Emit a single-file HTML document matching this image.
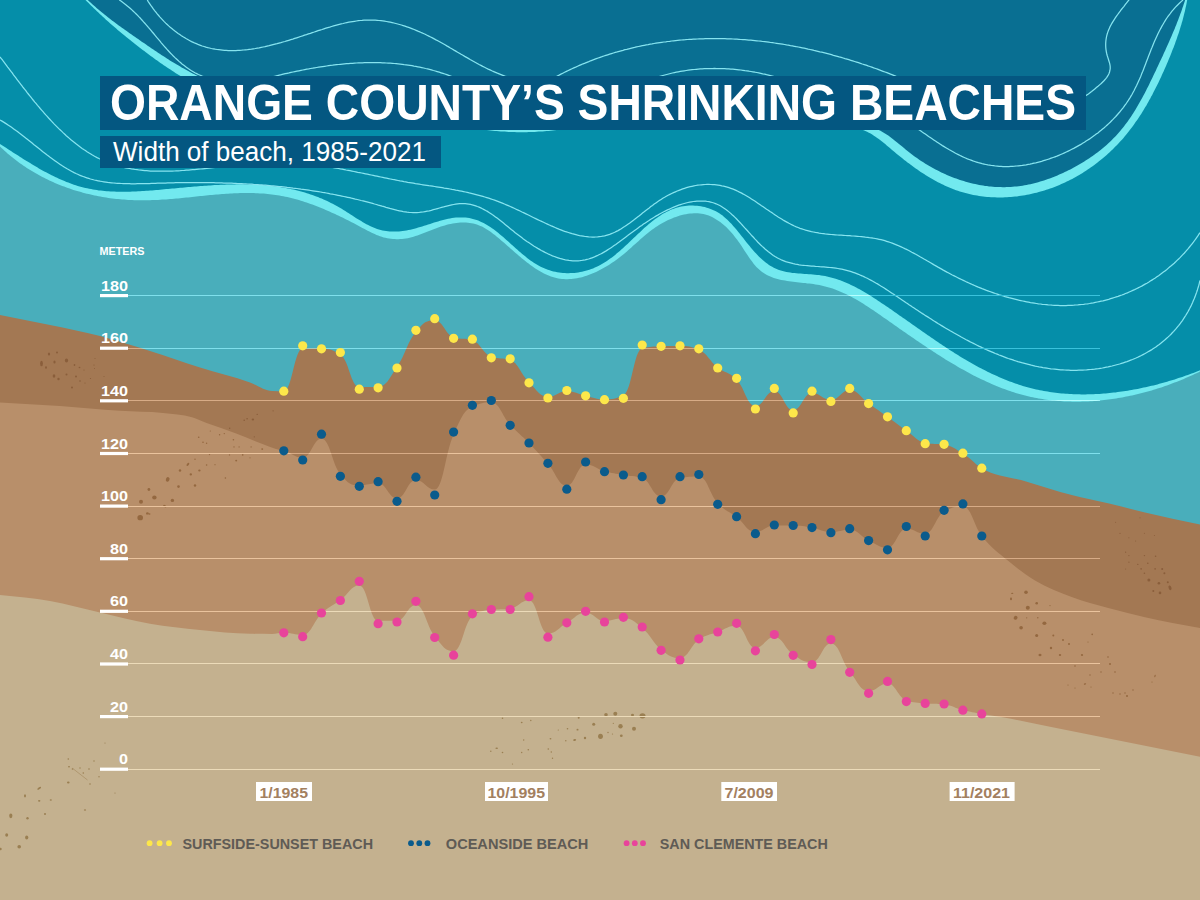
<!DOCTYPE html>
<html><head><meta charset="utf-8"><title>Orange County's Shrinking Beaches</title>
<style>
html,body{margin:0;padding:0;background:#c4b18f;}
body{width:1200px;height:900px;overflow:hidden;font-family:"Liberation Sans",sans-serif;}
svg{display:block;font-family:"Liberation Sans",sans-serif;}
</style></head><body>
<svg width="1200" height="900" viewBox="0 0 1200 900">
<rect width="1200" height="900" fill="#058ea9"/>
<path d="M80,-5 L85.5,-0 L86.9,1.4 L88.3,2.8 L89.7,4.3 L91.2,5.7 L92.6,7.1 L94,8.5 L95.5,9.8 L96.9,11.2 L98.4,12.6 L99.8,14 L101.3,15.3 L102.8,16.7 L104.3,18 L105.7,19.4 L107.2,20.7 L108.7,22 L110.2,23.4 L111.7,24.7 L113.2,26 L114.7,27.3 L116.2,28.6 L117.7,29.9 L119.3,31.2 L120.8,32.5 L122.3,33.8 L123.9,35 L125.4,36.3 L126.9,37.6 L128.5,38.8 L130.1,40.1 L131.6,41.3 L133.2,42.6 L134.7,43.8 L136.3,45.1 L137.9,46.3 L139.5,47.5 L141.1,48.7 L142.7,49.9 L144.3,51.1 L145.8,52.3 L147.5,53.5 L149.1,54.7 L150.7,55.9 L152.3,57.1 L153.9,58.3 L155.5,59.5 L157.2,60.6 L158.8,61.8 L160.4,62.9 L162.1,64.1 L163.7,65.2 L165.4,66.3 L167.1,67.4 L168.7,68.6 L170.4,69.6 L172.1,70.7 L173.8,71.8 L175.4,72.9 L177.1,73.9 L178.8,75 L180.5,76 L182.3,77 L184,78 L185.7,79 L187.4,80 L189.2,81 L190.9,82 L192.7,82.9 L194.4,83.8 L196.2,84.8 L198,85.7 L199.7,86.5 L201.5,87.4 L203.3,88.3 L205.1,89.1 L206.9,89.9 L208.7,90.7 L210.6,91.5 L212.4,92.3 L214.2,93.1 L216.1,93.8 L217.9,94.6 L219.8,95.3 L221.6,96 L223.5,96.7 L225.3,97.4 L227.2,98.1 L229.1,98.7 L231,99.4 L232.9,100 L234.8,100.6 L236.7,101.2 L238.6,101.8 L240.5,102.4 L242.4,103 L244.3,103.5 L246.2,104.1 L248.2,104.6 L250.1,105.2 L252,105.7 L254,106.2 L255.9,106.7 L257.8,107.1 L259.8,107.6 L261.8,108.1 L263.7,108.5 L265.7,109 L267.6,109.4 L269.6,109.8 L271.6,110.2 L273.5,110.6 L275.5,111 L277.5,111.4 L279.5,111.8 L281.4,112.1 L283.4,112.5 L285.4,112.8 L287.4,113.2 L289.4,113.5 L291.4,113.8 L293.4,114.1 L295.4,114.4 L297.4,114.7 L299.4,115 L301.4,115.3 L303.4,115.6 L305.4,115.9 L307.4,116.1 L309.4,116.4 L311.4,116.6 L313.4,116.9 L315.4,117.1 L317.4,117.3 L319.4,117.6 L321.4,117.8 L323.4,118 L325.4,118.2 L327.4,118.4 L329.4,118.6 L331.4,118.8 L333.4,119 L335.4,119.2 L337.4,119.4 L339.4,119.6 L341.4,119.7 L343.4,119.9 L345.4,120.1 L347.4,120.2 L349.4,120.4 L351.4,120.5 L353.4,120.7 L355.4,120.8 L357.4,121 L359.4,121.1 L361.4,121.3 L363.4,121.4 L365.4,121.5 L367.3,121.7 L369.3,121.8 L371.3,121.9 L373.3,122 L375.3,122.2 L377.3,122.3 L379.3,122.4 L381.3,122.5 L383.3,122.6 L385.3,122.8 L387.3,122.9 L389.3,123 L391.2,123.1 L393.2,123.2 L395.2,123.3 L397.2,123.4 L399.2,123.5 L401.2,123.7 L403.2,123.8 L405.2,123.9 L407.2,124 L409.1,124.1 L411.1,124.2 L413.1,124.3 L415.1,124.4 L417.1,124.6 L419.1,124.7 L421.1,124.8 L423.1,124.9 L425.1,125 L427,125.1 L429,125.3 L431,125.4 L433,125.5 L435,125.7 L437,125.8 L439,125.9 L441,126.1 L443,126.2 L444.9,126.3 L446.9,126.5 L448.9,126.6 L450.9,126.8 L452.9,126.9 L454.9,127.1 L456.9,127.3 L458.9,127.4 L460.9,127.6 L462.9,127.8 L464.8,127.9 L466.8,128.1 L468.8,128.3 L470.8,128.5 L472.8,128.7 L474.8,128.9 L476.8,129.1 L478.8,129.3 L480.8,129.5 L482.8,129.7 L484.8,129.9 L486.8,130.1 L488.8,130.3 L490.8,130.5 L492.8,130.7 L494.8,130.9 L496.8,131 L498.7,131.2 L500.7,131.4 L502.7,131.5 L504.7,131.6 L506.7,131.8 L508.7,131.9 L510.7,132 L512.7,132.1 L514.7,132.1 L516.7,132.2 L518.7,132.2 L520.7,132.2 L522.7,132.2 L524.7,132.2 L526.7,132.2 L528.7,132.1 L530.7,132.1 L532.7,132 L534.7,131.9 L536.7,131.8 L538.7,131.6 L540.6,131.5 L542.6,131.4 L544.6,131.2 L546.6,131 L548.6,130.9 L550.6,130.7 L552.6,130.5 L554.6,130.3 L556.6,130.1 L558.6,129.9 L560.6,129.7 L562.6,129.5 L564.6,129.3 L566.6,129.1 L568.6,128.9 L570.5,128.7 L572.5,128.5 L574.5,128.3 L576.5,128.1 L578.5,127.9 L580.5,127.7 L582.5,127.6 L584.5,127.4 L586.5,127.2 L588.5,127 L590.5,126.9 L592.5,126.7 L594.5,126.5 L596.5,126.4 L598.4,126.2 L600.4,126.1 L602.4,126 L604.4,125.8 L606.4,125.7 L608.4,125.6 L610.4,125.4 L612.4,125.3 L614.4,125.2 L616.4,125.1 L618.4,125 L620.4,124.8 L622.4,124.7 L624.4,124.6 L626.3,124.5 L628.3,124.4 L630.3,124.4 L632.3,124.3 L634.3,124.2 L636.3,124.1 L638.3,124 L640.3,123.9 L642.3,123.9 L644.3,123.8 L646.3,123.7 L648.3,123.7 L650.3,123.6 L652.3,123.5 L654.3,123.5 L656.3,123.4 L658.2,123.4 L660.2,123.3 L662.2,123.3 L664.2,123.3 L666.2,123.2 L668.2,123.2 L670.2,123.1 L672.2,123.1 L674.2,123.1 L676.2,123.1 L678.2,123 L680.2,123 L682.2,123 L684.2,123 L686.2,123 L688.2,122.9 L690.2,122.9 L692.2,122.9 L694.2,122.9 L696.2,122.9 L698.2,122.9 L700.2,122.9 L702.2,122.9 L704.2,122.9 L706.2,122.9 L708.2,122.9 L710.2,122.9 L712.2,123 L714.2,123 L716.2,123 L718.2,123 L720.2,123 L722.2,123 L724.2,123.1 L726.2,123.1 L728.2,123.1 L730.2,123.1 L732.2,123.2 L734.2,123.2 L736.2,123.2 L738.2,123.3 L740.2,123.3 L742.2,123.3 L744.2,123.4 L746.2,123.4 L748.2,123.4 L750.2,123.5 L752.2,123.5 L754.2,123.6 L756.2,123.6 L758.2,123.6 L760.2,123.7 L762.2,123.7 L764.2,123.8 L766.2,123.8 L768.2,123.9 L770.2,123.9 L772.3,124 L774.3,124 L776.3,124.1 L778.3,124.1 L780.3,124.2 L782.3,124.2 L784.3,124.3 L786.3,124.3 L788.3,124.4 L790.3,124.4 L792.3,124.5 L794.4,124.5 L796.4,124.6 L798.4,124.7 L800.4,124.7 L802.4,124.8 L804.4,124.8 L806.4,124.9 L808.4,124.9 L810.5,125 L812.5,125 L814.5,125.1 L816.5,125.2 L818.5,125.2 L820.5,125.3 L822.6,125.3 L824.6,125.4 L826.6,125.4 L828.6,125.5 L830.6,125.5 L832.7,125.6 L834.7,125.7 L836.7,125.7 L838.7,125.8 L840.7,125.9 L842.7,126 L844.7,126.2 L846.6,126.4 L848.6,126.6 L850.6,126.9 L852.5,127.2 L854.4,127.5 L856.3,127.9 L858.2,128.4 L860,128.9 L861.8,129.5 L863.6,130.2 L865.4,131 L867.1,131.8 L868.9,132.7 L870.6,133.6 L872.2,134.6 L873.9,135.7 L875.5,136.8 L877.2,137.9 L878.8,139.1 L880.4,140.3 L882,141.6 L883.6,142.8 L885.2,144.1 L886.7,145.4 L888.3,146.8 L889.9,148.1 L891.5,149.4 L893,150.8 L894.6,152.1 L896.2,153.4 L897.8,154.7 L899.4,156 L901,157.3 L902.6,158.6 L904.2,159.9 L905.8,161.1 L907.5,162.4 L909.1,163.6 L910.7,164.8 L912.4,166 L914,167.2 L915.7,168.4 L917.4,169.6 L919,170.7 L920.7,171.9 L922.4,173 L924.1,174.1 L925.8,175.2 L927.5,176.2 L929.2,177.3 L930.9,178.3 L932.7,179.3 L934.4,180.3 L936.2,181.2 L937.9,182.2 L939.7,183.1 L941.5,184 L943.3,184.8 L945,185.7 L946.9,186.5 L948.7,187.3 L950.5,188 L952.3,188.8 L954.2,189.5 L956,190.2 L957.9,190.8 L959.8,191.4 L961.7,192 L963.6,192.6 L965.5,193.1 L967.4,193.6 L969.3,194 L971.3,194.5 L973.2,194.9 L975.2,195.2 L977.1,195.6 L979.1,195.9 L981.1,196.2 L983.1,196.4 L985,196.7 L987,196.9 L989,197 L991,197.2 L993,197.3 L995,197.3 L997,197.4 L999,197.4 L1001,197.4 L1003,197.4 L1005,197.3 L1007,197.2 L1009,197.1 L1011,197 L1013,196.8 L1015,196.6 L1017,196.4 L1019,196.1 L1021,195.8 L1023,195.5 L1025,195.2 L1026.9,194.8 L1028.9,194.5 L1030.9,194 L1032.8,193.6 L1034.8,193.1 L1036.7,192.7 L1038.7,192.1 L1040.6,191.6 L1042.5,191 L1044.4,190.5 L1046.3,189.8 L1048.2,189.2 L1050.1,188.5 L1052,187.9 L1053.9,187.2 L1055.8,186.4 L1057.6,185.7 L1059.5,184.9 L1061.3,184.1 L1063.2,183.3 L1065,182.4 L1066.8,181.6 L1068.6,180.7 L1070.4,179.8 L1072.2,178.9 L1073.9,177.9 L1075.7,176.9 L1077.4,176 L1079.2,174.9 L1080.9,173.9 L1082.6,172.9 L1084.3,171.8 L1086,170.7 L1087.7,169.6 L1089.3,168.5 L1091,167.3 L1092.6,166.2 L1094.3,165 L1095.9,163.8 L1097.5,162.6 L1099,161.3 L1100.6,160.1 L1102.2,158.8 L1103.7,157.5 L1105.2,156.2 L1106.7,154.9 L1108.2,153.6 L1109.7,152.2 L1111.1,150.8 L1112.6,149.5 L1114,148.1 L1115.4,146.6 L1116.8,145.2 L1118.2,143.8 L1119.5,142.3 L1120.9,140.8 L1122.2,139.4 L1123.5,137.9 L1124.8,136.3 L1126.1,134.8 L1127.3,133.3 L1128.5,131.7 L1129.8,130.1 L1131,128.6 L1132.2,127 L1133.3,125.4 L1134.5,123.8 L1135.6,122.1 L1136.8,120.5 L1137.9,118.9 L1139,117.2 L1140.1,115.5 L1141.2,113.9 L1142.2,112.2 L1143.3,110.5 L1144.3,108.8 L1145.3,107.1 L1146.4,105.4 L1147.4,103.6 L1148.3,101.9 L1149.3,100.1 L1150.3,98.4 L1151.2,96.6 L1152.2,94.9 L1153.1,93.1 L1154,91.3 L1154.9,89.5 L1155.8,87.8 L1156.7,86 L1157.6,84.2 L1158.5,82.4 L1159.4,80.5 L1160.2,78.7 L1161.1,76.9 L1161.9,75.1 L1162.7,73.3 L1163.6,71.4 L1164.4,69.6 L1165.2,67.8 L1166,65.9 L1166.8,64.1 L1167.6,62.3 L1168.3,60.4 L1169.1,58.6 L1169.9,56.7 L1170.6,54.9 L1171.4,53 L1172.1,51.1 L1172.8,49.3 L1173.6,47.4 L1174.3,45.6 L1175,43.7 L1175.6,41.8 L1176.3,39.9 L1177,38 L1177.6,36.1 L1178.3,34.3 L1178.9,32.4 L1179.5,30.5 L1180.1,28.5 L1180.7,26.6 L1181.3,24.7 L1181.8,22.8 L1182.4,20.9 L1182.9,19 L1183.4,17 L1183.9,15.1 L1184.4,13.1 L1184.9,11.2 L1185.3,9.2 L1185.7,7.3 L1186.2,5.3 L1186.6,3.3 L1186.9,1.4 L1187.2,-0 L1190,-5 Z" fill="#72e9ef"/>
<path d="M84,-5 L87.8,-0 L89.3,1.4 L90.8,2.8 L92.3,4.2 L93.8,5.5 L95.3,6.8 L96.8,8.2 L98.4,9.5 L99.9,10.8 L101.4,12 L103,13.3 L104.5,14.6 L106.1,15.8 L107.6,17 L109.2,18.2 L110.8,19.5 L112.3,20.7 L113.9,21.8 L115.5,23 L117.1,24.2 L118.7,25.4 L120.3,26.5 L121.9,27.7 L123.5,28.8 L125.1,30 L126.7,31.1 L128.3,32.3 L130,33.4 L131.6,34.5 L133.2,35.7 L134.8,36.8 L136.5,37.9 L138.1,39.1 L139.8,40.2 L141.4,41.4 L143,42.5 L144.7,43.6 L146.4,44.8 L148,45.9 L149.7,47 L151.3,48.2 L153,49.3 L154.7,50.4 L156.4,51.6 L158,52.7 L159.7,53.8 L161.4,54.9 L163.1,56 L164.8,57.1 L166.5,58.2 L168.2,59.3 L169.9,60.4 L171.6,61.4 L173.4,62.5 L175.1,63.6 L176.8,64.6 L178.6,65.6 L180.3,66.6 L182,67.7 L183.8,68.6 L185.5,69.6 L187.3,70.6 L189.1,71.6 L190.8,72.5 L192.6,73.4 L194.4,74.3 L196.2,75.2 L197.9,76.1 L199.7,77 L201.5,77.9 L203.3,78.7 L205.1,79.6 L206.9,80.4 L208.8,81.2 L210.6,82 L212.4,82.8 L214.2,83.6 L216.1,84.3 L217.9,85.1 L219.7,85.8 L221.6,86.5 L223.4,87.3 L225.3,88 L227.1,88.7 L229,89.4 L230.9,90 L232.7,90.7 L234.6,91.3 L236.5,92 L238.3,92.6 L240.2,93.2 L242.1,93.8 L244,94.4 L245.9,95 L247.8,95.6 L249.7,96.2 L251.6,96.7 L253.5,97.3 L255.4,97.8 L257.3,98.4 L259.2,98.9 L261.2,99.4 L263.1,99.9 L265,100.4 L266.9,100.9 L268.9,101.4 L270.8,101.8 L272.7,102.3 L274.7,102.7 L276.6,103.2 L278.5,103.6 L280.5,104 L282.4,104.5 L284.4,104.9 L286.3,105.3 L288.3,105.7 L290.3,106 L292.2,106.4 L294.2,106.8 L296.1,107.2 L298.1,107.5 L300.1,107.9 L302,108.2 L304,108.6 L306,108.9 L308,109.2 L310,109.5 L311.9,109.8 L313.9,110.1 L315.9,110.4 L317.9,110.7 L319.9,111 L321.9,111.3 L323.8,111.6 L325.8,111.9 L327.8,112.1 L329.8,112.4 L331.8,112.6 L333.8,112.9 L335.8,113.1 L337.8,113.4 L339.8,113.6 L341.8,113.8 L343.8,114.1 L345.8,114.3 L347.8,114.5 L349.8,114.7 L351.8,114.9 L353.8,115.1 L355.8,115.3 L357.8,115.5 L359.8,115.7 L361.9,115.9 L363.9,116.1 L365.9,116.3 L367.9,116.4 L369.9,116.6 L371.9,116.8 L373.9,117 L375.9,117.1 L377.9,117.3 L379.9,117.5 L382,117.6 L384,117.8 L386,117.9 L388,118.1 L390,118.2 L392,118.4 L394,118.5 L396,118.7 L398,118.8 L400,119 L402,119.1 L404.1,119.2 L406.1,119.4 L408.1,119.5 L410.1,119.6 L412.1,119.8 L414.1,119.9 L416.1,120.1 L418.1,120.2 L420.1,120.3 L422.1,120.5 L424.1,120.6 L426.1,120.7 L428.1,120.9 L430.1,121 L432.1,121.1 L434.1,121.2 L436.1,121.4 L438.1,121.5 L440,121.6 L442,121.8 L444,121.9 L446,122 L448,122.1 L450,122.2 L452,122.4 L454,122.5 L456,122.6 L458,122.7 L459.9,122.8 L461.9,122.9 L463.9,123 L465.9,123.2 L467.9,123.3 L469.9,123.4 L471.9,123.5 L473.9,123.6 L475.8,123.6 L477.8,123.7 L479.8,123.8 L481.8,123.9 L483.8,124 L485.8,124.1 L487.8,124.1 L489.7,124.2 L491.7,124.3 L493.7,124.4 L495.7,124.4 L497.7,124.5 L499.7,124.5 L501.7,124.6 L503.6,124.6 L505.6,124.7 L507.6,124.7 L509.6,124.7 L511.6,124.8 L513.6,124.8 L515.6,124.8 L517.6,124.8 L519.6,124.8 L521.6,124.9 L523.5,124.9 L525.5,124.9 L527.5,124.8 L529.5,124.8 L531.5,124.8 L533.5,124.8 L535.5,124.8 L537.5,124.7 L539.5,124.7 L541.5,124.7 L543.5,124.6 L545.5,124.6 L547.5,124.6 L549.5,124.5 L551.5,124.4 L553.5,124.4 L555.5,124.3 L557.5,124.3 L559.5,124.2 L561.5,124.1 L563.5,124.1 L565.5,124 L567.5,123.9 L569.5,123.8 L571.5,123.8 L573.5,123.7 L575.5,123.6 L577.5,123.5 L579.5,123.4 L581.5,123.3 L583.5,123.2 L585.5,123.1 L587.5,123.1 L589.5,123 L591.5,122.9 L593.5,122.8 L595.5,122.7 L597.5,122.6 L599.5,122.5 L601.5,122.4 L603.6,122.3 L605.6,122.2 L607.6,122.1 L609.6,122 L611.6,121.9 L613.6,121.8 L615.6,121.7 L617.6,121.5 L619.6,121.4 L621.6,121.3 L623.6,121.2 L625.6,121.1 L627.6,121 L629.6,120.9 L631.6,120.9 L633.6,120.8 L635.6,120.7 L637.6,120.6 L639.6,120.5 L641.6,120.4 L643.6,120.3 L645.6,120.2 L647.6,120.1 L649.6,120 L651.6,120 L653.6,119.9 L655.6,119.8 L657.6,119.7 L659.6,119.6 L661.6,119.6 L663.5,119.5 L665.5,119.4 L667.5,119.3 L669.5,119.3 L671.5,119.2 L673.5,119.2 L675.5,119.1 L677.5,119 L679.5,119 L681.5,118.9 L683.5,118.9 L685.5,118.8 L687.5,118.7 L689.5,118.7 L691.5,118.7 L693.5,118.6 L695.5,118.6 L697.5,118.5 L699.4,118.5 L701.4,118.4 L703.4,118.4 L705.4,118.4 L707.4,118.3 L709.4,118.3 L711.4,118.3 L713.4,118.2 L715.4,118.2 L717.4,118.2 L719.4,118.2 L721.4,118.2 L723.4,118.1 L725.4,118.1 L727.4,118.1 L729.4,118.1 L731.4,118.1 L733.4,118.1 L735.4,118.1 L737.4,118.1 L739.4,118.1 L741.4,118.1 L743.4,118.1 L745.4,118.1 L747.4,118.1 L749.4,118.1 L751.4,118.1 L753.4,118.1 L755.4,118.2 L757.4,118.2 L759.4,118.2 L761.4,118.2 L763.4,118.3 L765.4,118.3 L767.4,118.3 L769.4,118.4 L771.4,118.4 L773.4,118.4 L775.4,118.5 L777.4,118.5 L779.4,118.6 L781.4,118.6 L783.4,118.7 L785.4,118.7 L787.4,118.8 L789.4,118.8 L791.5,118.9 L793.5,119 L795.5,119 L797.5,119.1 L799.5,119.2 L801.5,119.2 L803.5,119.3 L805.6,119.4 L807.6,119.5 L809.6,119.6 L811.6,119.6 L813.6,119.7 L815.7,119.8 L817.7,119.9 L819.7,120 L821.7,120.1 L823.7,120.2 L825.8,120.3 L827.8,120.4 L829.8,120.6 L831.9,120.7 L833.9,120.8 L835.9,120.9 L837.9,121 L840,121.2 L842,121.3 L844,121.5 L846,121.7 L848,121.9 L850,122.2 L852,122.4 L854,122.7 L855.9,123 L857.9,123.3 L859.8,123.7 L861.7,124.1 L863.6,124.6 L865.5,125 L867.4,125.6 L869.3,126.1 L871.1,126.7 L872.9,127.4 L874.7,128.1 L876.5,128.9 L878.2,129.7 L880,130.5 L881.7,131.5 L883.3,132.4 L885,133.5 L886.6,134.5 L888.3,135.6 L889.9,136.8 L891.5,138 L893.1,139.2 L894.6,140.4 L896.2,141.7 L897.8,142.9 L899.3,144.2 L900.9,145.5 L902.5,146.8 L904,148.1 L905.6,149.4 L907.2,150.7 L908.8,152 L910.4,153.2 L912,154.5 L913.6,155.7 L915.3,156.9 L917,158.1 L918.6,159.2 L920.3,160.4 L922,161.5 L923.7,162.6 L925.4,163.7 L927.2,164.7 L928.9,165.8 L930.7,166.8 L932.4,167.8 L934.2,168.7 L936,169.7 L937.8,170.6 L939.6,171.5 L941.4,172.4 L943.2,173.3 L945,174.1 L946.9,174.9 L948.7,175.7 L950.6,176.5 L952.4,177.2 L954.3,177.9 L956.2,178.6 L958.1,179.3 L960,179.9 L961.9,180.6 L963.8,181.1 L965.7,181.7 L967.6,182.2 L969.5,182.8 L971.4,183.2 L973.4,183.7 L975.3,184.1 L977.3,184.5 L979.2,184.9 L981.1,185.3 L983.1,185.6 L985.1,185.9 L987,186.1 L989,186.4 L990.9,186.6 L992.9,186.7 L994.9,186.9 L996.8,187 L998.8,187.1 L1000.8,187.1 L1002.8,187.2 L1004.7,187.2 L1006.7,187.1 L1008.7,187 L1010.7,186.9 L1012.7,186.8 L1014.6,186.6 L1016.6,186.4 L1018.6,186.2 L1020.6,185.9 L1022.5,185.7 L1024.5,185.3 L1026.5,185 L1028.4,184.6 L1030.4,184.2 L1032.4,183.7 L1034.3,183.2 L1036.3,182.7 L1038.2,182.2 L1040.2,181.6 L1042.1,181 L1044,180.4 L1046,179.8 L1047.9,179.1 L1049.8,178.4 L1051.7,177.7 L1053.6,176.9 L1055.5,176.2 L1057.4,175.4 L1059.2,174.6 L1061.1,173.8 L1063,172.9 L1064.8,172.1 L1066.6,171.2 L1068.4,170.3 L1070.3,169.4 L1072.1,168.4 L1073.8,167.5 L1075.6,166.5 L1077.4,165.5 L1079.1,164.5 L1080.9,163.5 L1082.6,162.5 L1084.3,161.4 L1086,160.3 L1087.7,159.3 L1089.3,158.2 L1091,157 L1092.6,155.9 L1094.3,154.8 L1095.9,153.6 L1097.4,152.4 L1099,151.2 L1100.6,150 L1102.1,148.7 L1103.6,147.5 L1105.1,146.2 L1106.6,144.9 L1108.1,143.5 L1109.5,142.2 L1110.9,140.9 L1112.3,139.5 L1113.7,138.1 L1115.1,136.7 L1116.5,135.2 L1117.8,133.8 L1119.1,132.3 L1120.4,130.8 L1121.6,129.3 L1122.9,127.7 L1124.1,126.2 L1125.3,124.6 L1126.5,123 L1127.7,121.4 L1128.8,119.8 L1129.9,118.2 L1131.1,116.5 L1132.2,114.8 L1133.2,113.2 L1134.3,111.5 L1135.4,109.8 L1136.4,108.1 L1137.4,106.3 L1138.4,104.6 L1139.4,102.8 L1140.4,101.1 L1141.4,99.3 L1142.4,97.5 L1143.3,95.8 L1144.3,94 L1145.2,92.2 L1146.1,90.4 L1147,88.6 L1148,86.8 L1148.9,84.9 L1149.8,83.1 L1150.6,81.3 L1151.5,79.5 L1152.4,77.7 L1153.3,75.8 L1154.1,74 L1155,72.2 L1155.9,70.4 L1156.7,68.5 L1157.6,66.7 L1158.4,64.9 L1159.3,63.1 L1160.1,61.3 L1161,59.5 L1161.8,57.7 L1162.7,55.9 L1163.5,54.1 L1164.3,52.3 L1165.2,50.5 L1166,48.6 L1166.8,46.8 L1167.6,45 L1168.4,43.2 L1169.2,41.4 L1170,39.6 L1170.8,37.8 L1171.6,36 L1172.4,34.1 L1173.1,32.3 L1173.9,30.5 L1174.7,28.7 L1175.4,26.8 L1176.2,25 L1176.9,23.1 L1177.6,21.3 L1178.3,19.4 L1179,17.5 L1179.7,15.7 L1180.4,13.8 L1181.1,11.9 L1181.8,10 L1182.4,8.1 L1183.1,6.2 L1183.7,4.3 L1184.4,2.3 L1185,0.4 L1185.1,0 L1188,-5 Z" fill="#096f92"/>
<path d="M-5,140 L0,144 L1.6,145 L3.2,146 L4.8,147.1 L6.4,148.1 L8.1,149.2 L9.7,150.2 L11.4,151.3 L13,152.4 L14.7,153.5 L16.4,154.5 L18.1,155.6 L19.8,156.7 L21.5,157.8 L23.2,158.9 L24.9,159.9 L26.6,161 L28.4,162.1 L30.1,163.1 L31.9,164.2 L33.6,165.2 L35.4,166.3 L37.2,167.3 L38.9,168.4 L40.7,169.4 L42.5,170.4 L44.3,171.4 L46.1,172.3 L47.9,173.3 L49.8,174.2 L51.6,175.2 L53.4,176.1 L55.2,177 L57.1,177.8 L58.9,178.7 L60.8,179.5 L62.6,180.3 L64.5,181.1 L66.4,181.9 L68.3,182.6 L70.1,183.3 L72,184 L73.9,184.7 L75.8,185.3 L77.7,185.9 L79.6,186.4 L81.5,187 L83.4,187.5 L85.3,187.9 L87.2,188.3 L89.1,188.8 L91.1,189.1 L93,189.5 L94.9,189.8 L96.9,190.1 L98.8,190.4 L100.7,190.6 L102.7,190.8 L104.6,191 L106.6,191.2 L108.5,191.3 L110.5,191.4 L112.4,191.5 L114.4,191.6 L116.4,191.7 L118.3,191.7 L120.3,191.8 L122.3,191.8 L124.2,191.8 L126.2,191.7 L128.2,191.7 L130.2,191.7 L132.2,191.6 L134.2,191.5 L136.1,191.4 L138.1,191.3 L140.1,191.2 L142.1,191.1 L144.1,191 L146.1,190.8 L148.1,190.7 L150.1,190.5 L152.1,190.4 L154.1,190.2 L156.1,190 L158.1,189.9 L160.1,189.7 L162.1,189.5 L164.2,189.3 L166.2,189.1 L168.2,189 L170.2,188.8 L172.2,188.6 L174.2,188.4 L176.2,188.2 L178.2,188 L180.3,187.8 L182.3,187.7 L184.3,187.5 L186.3,187.3 L188.3,187.1 L190.3,186.9 L192.4,186.8 L194.4,186.6 L196.4,186.4 L198.4,186.3 L200.4,186.1 L202.4,186 L204.5,185.8 L206.5,185.7 L208.5,185.5 L210.5,185.4 L212.5,185.3 L214.5,185.1 L216.5,185 L218.6,184.9 L220.6,184.8 L222.6,184.7 L224.6,184.7 L226.6,184.6 L228.6,184.5 L230.6,184.5 L232.6,184.4 L234.6,184.4 L236.6,184.3 L238.6,184.3 L240.6,184.3 L242.6,184.3 L244.6,184.4 L246.6,184.4 L248.5,184.4 L250.5,184.5 L252.5,184.6 L254.5,184.6 L256.5,184.7 L258.4,184.8 L260.4,185 L262.4,185.1 L264.4,185.3 L266.3,185.4 L268.3,185.6 L270.2,185.8 L272.2,186 L274.1,186.3 L276.1,186.5 L278,186.8 L280,187.1 L281.9,187.4 L283.9,187.7 L285.8,188 L287.7,188.4 L289.6,188.8 L291.6,189.2 L293.5,189.6 L295.4,190.1 L297.3,190.5 L299.2,191 L301.1,191.5 L303,192 L304.9,192.6 L306.8,193.2 L308.7,193.8 L310.5,194.4 L312.4,195 L314.3,195.7 L316.2,196.4 L318,197.1 L319.9,197.9 L321.7,198.6 L323.6,199.4 L325.4,200.2 L327.2,201.1 L329.1,202 L330.9,202.9 L332.7,203.8 L334.5,204.7 L336.3,205.7 L338.1,206.7 L339.9,207.8 L341.7,208.8 L343.5,209.9 L345.3,211.1 L347,212.2 L348.8,213.3 L350.6,214.5 L352.3,215.6 L354.1,216.7 L355.9,217.9 L357.6,219 L359.4,220.1 L361.2,221.1 L362.9,222.2 L364.7,223.2 L366.4,224.2 L368.2,225.1 L370,226 L371.7,226.8 L373.5,227.6 L375.3,228.3 L377.1,228.9 L378.9,229.5 L380.7,230 L382.5,230.4 L384.3,230.8 L386.1,231.1 L387.9,231.3 L389.7,231.5 L391.6,231.6 L393.4,231.6 L395.2,231.6 L397.1,231.6 L399,231.5 L400.9,231.3 L402.7,231.1 L404.6,230.8 L406.5,230.5 L408.5,230.1 L410.4,229.7 L412.3,229.2 L414.3,228.7 L416.2,228.2 L418.2,227.6 L420.2,227 L422.2,226.4 L424.1,225.8 L426.1,225.2 L428.1,224.5 L430.1,223.9 L432.1,223.2 L434.1,222.6 L436.1,222 L438.1,221.4 L440.1,220.8 L442.1,220.3 L444.1,219.8 L446.1,219.3 L448.1,218.8 L450,218.5 L452,218.1 L454,217.8 L455.9,217.6 L457.9,217.5 L459.8,217.4 L461.7,217.4 L463.6,217.4 L465.5,217.6 L467.4,217.8 L469.3,218.1 L471.1,218.4 L472.9,218.9 L474.8,219.4 L476.6,220 L478.3,220.6 L480.1,221.4 L481.8,222.2 L483.6,223 L485.3,223.9 L487,224.9 L488.6,225.9 L490.3,227 L492,228.2 L493.6,229.3 L495.2,230.6 L496.8,231.8 L498.4,233.1 L500,234.4 L501.6,235.7 L503.2,237.1 L504.8,238.5 L506.4,239.9 L508,241.3 L509.6,242.7 L511.1,244.2 L512.7,245.6 L514.3,247 L515.9,248.4 L517.5,249.8 L519,251.2 L520.6,252.6 L522.2,254 L523.9,255.3 L525.5,256.6 L527.1,257.9 L528.8,259.2 L530.4,260.4 L532.1,261.5 L533.8,262.7 L535.5,263.8 L537.2,264.8 L538.9,265.8 L540.7,266.7 L542.4,267.5 L544.2,268.3 L546,269.1 L547.9,269.7 L549.7,270.3 L551.6,270.9 L553.4,271.4 L555.3,271.8 L557.2,272.2 L559.1,272.5 L561,272.7 L562.9,272.9 L564.8,273.1 L566.7,273.2 L568.6,273.2 L570.5,273.1 L572.5,273.1 L574.4,272.9 L576.3,272.7 L578.2,272.4 L580.1,272.1 L582,271.7 L583.8,271.3 L585.7,270.8 L587.6,270.3 L589.4,269.7 L591.2,269.1 L593.1,268.4 L594.9,267.6 L596.7,266.8 L598.4,266 L600.2,265 L601.9,264.1 L603.6,263.1 L605.3,262 L606.9,260.9 L608.6,259.8 L610.2,258.6 L611.9,257.4 L613.5,256.2 L615.1,254.9 L616.6,253.6 L618.2,252.3 L619.8,250.9 L621.3,249.5 L622.9,248.2 L624.4,246.7 L626,245.3 L627.5,243.9 L629,242.5 L630.5,241 L632.1,239.6 L633.6,238.1 L635.1,236.7 L636.6,235.2 L638.1,233.8 L639.7,232.4 L641.2,230.9 L642.7,229.5 L644.2,228.1 L645.8,226.8 L647.3,225.4 L648.9,224.1 L650.5,222.8 L652,221.5 L653.6,220.3 L655.2,219.1 L656.8,217.9 L658.5,216.8 L660.1,215.7 L661.8,214.6 L663.4,213.6 L665.1,212.7 L666.8,211.7 L668.6,210.9 L670.3,210.1 L672.1,209.3 L673.9,208.7 L675.7,208 L677.5,207.5 L679.4,207 L681.3,206.6 L683.2,206.2 L685.1,206 L687.1,205.8 L689.1,205.6 L691,205.6 L693,205.6 L695,205.7 L697,205.8 L698.9,206 L700.9,206.3 L702.9,206.7 L704.8,207.1 L706.7,207.7 L708.6,208.3 L710.5,208.9 L712.3,209.7 L714.1,210.5 L715.9,211.3 L717.6,212.3 L719.3,213.3 L721,214.4 L722.6,215.6 L724.1,216.9 L725.6,218.2 L727.1,219.5 L728.6,220.9 L730,222.4 L731.4,223.8 L732.8,225.4 L734.1,226.9 L735.5,228.5 L736.8,230.1 L738.1,231.7 L739.4,233.3 L740.7,234.9 L741.9,236.5 L743.2,238.1 L744.5,239.8 L745.8,241.4 L747,243 L748.3,244.5 L749.6,246.1 L750.9,247.7 L752.2,249.2 L753.5,250.7 L754.8,252.2 L756.1,253.6 L757.5,255 L758.8,256.4 L760.2,257.8 L761.6,259.1 L763,260.3 L764.5,261.6 L766,262.7 L767.5,263.8 L769,264.9 L770.6,265.9 L772.2,266.8 L773.8,267.7 L775.5,268.5 L777.2,269.3 L779,270 L780.8,270.6 L782.6,271.1 L784.5,271.6 L786.4,272 L788.3,272.3 L790.3,272.6 L792.3,272.9 L794.3,273.1 L796.3,273.3 L798.4,273.5 L800.4,273.6 L802.5,273.8 L804.6,273.9 L806.7,274.1 L808.8,274.2 L810.8,274.3 L812.9,274.5 L815,274.7 L817,274.9 L819.1,275.1 L821.1,275.4 L823.1,275.7 L825.1,276.1 L827,276.5 L828.9,276.9 L830.9,277.4 L832.8,277.9 L834.7,278.5 L836.5,279.1 L838.4,279.7 L840.2,280.3 L842,281 L843.8,281.7 L845.6,282.5 L847.4,283.2 L849.2,284 L851,284.9 L852.7,285.7 L854.4,286.6 L856.2,287.5 L857.9,288.4 L859.6,289.3 L861.3,290.3 L863,291.2 L864.7,292.2 L866.4,293.2 L868.1,294.3 L869.7,295.3 L871.4,296.3 L873.1,297.4 L874.7,298.5 L876.4,299.6 L878,300.7 L879.7,301.8 L881.3,302.9 L883,304 L884.6,305.1 L886.3,306.2 L888,307.3 L889.6,308.5 L891.3,309.6 L892.9,310.8 L894.6,311.9 L896.2,313 L897.9,314.2 L899.5,315.4 L901.2,316.5 L902.8,317.7 L904.5,318.8 L906.2,320 L907.8,321.2 L909.5,322.3 L911.1,323.5 L912.8,324.7 L914.4,325.8 L916.1,327 L917.8,328.2 L919.4,329.3 L921.1,330.5 L922.8,331.7 L924.4,332.8 L926.1,334 L927.8,335.2 L929.5,336.3 L931.1,337.5 L932.8,338.6 L934.5,339.8 L936.2,340.9 L937.9,342.1 L939.5,343.2 L941.2,344.3 L942.9,345.4 L944.6,346.6 L946.3,347.7 L948,348.8 L949.7,349.9 L951.4,351 L953.1,352.1 L954.8,353.2 L956.6,354.2 L958.3,355.3 L960,356.4 L961.7,357.4 L963.4,358.4 L965.2,359.5 L966.9,360.5 L968.6,361.5 L970.4,362.5 L972.1,363.5 L973.9,364.5 L975.6,365.5 L977.4,366.4 L979.1,367.4 L980.9,368.3 L982.7,369.2 L984.4,370.1 L986.2,371 L988,371.9 L989.8,372.8 L991.6,373.7 L993.4,374.5 L995.2,375.3 L997,376.1 L998.8,377 L1000.6,377.7 L1002.4,378.5 L1004.2,379.3 L1006.1,380 L1007.9,380.7 L1009.7,381.4 L1011.6,382.1 L1013.4,382.8 L1015.3,383.4 L1017.2,384.1 L1019,384.7 L1020.9,385.3 L1022.8,385.9 L1024.7,386.4 L1026.5,387 L1028.4,387.5 L1030.3,388 L1032.3,388.5 L1034.2,388.9 L1036.1,389.4 L1038,389.8 L1039.9,390.2 L1041.9,390.6 L1043.8,390.9 L1045.8,391.3 L1047.7,391.6 L1049.7,391.9 L1051.6,392.2 L1053.6,392.5 L1055.6,392.7 L1057.5,393 L1059.5,393.2 L1061.5,393.4 L1063.5,393.5 L1065.5,393.7 L1067.4,393.8 L1069.4,394 L1071.4,394.1 L1073.4,394.2 L1075.4,394.2 L1077.4,394.3 L1079.4,394.3 L1081.4,394.4 L1083.4,394.4 L1085.5,394.4 L1087.5,394.3 L1089.5,394.3 L1091.5,394.2 L1093.5,394.2 L1095.5,394.1 L1097.5,394 L1099.5,393.9 L1101.6,393.7 L1103.6,393.6 L1105.6,393.4 L1107.6,393.2 L1109.6,393 L1111.6,392.8 L1113.6,392.6 L1115.6,392.4 L1117.7,392.1 L1119.7,391.8 L1121.7,391.6 L1123.7,391.3 L1125.7,391 L1127.7,390.7 L1129.7,390.3 L1131.7,390 L1133.7,389.6 L1135.7,389.2 L1137.7,388.9 L1139.6,388.5 L1141.6,388.1 L1143.6,387.6 L1145.6,387.2 L1147.6,386.8 L1149.5,386.3 L1151.5,385.8 L1153.5,385.4 L1155.4,384.9 L1157.4,384.4 L1159.3,383.8 L1161.3,383.3 L1163.2,382.8 L1165.1,382.2 L1167.1,381.7 L1169,381.1 L1170.9,380.5 L1172.8,380 L1174.7,379.4 L1176.6,378.7 L1178.5,378.1 L1180.4,377.5 L1182.3,376.9 L1184.1,376.2 L1186,375.6 L1187.9,374.9 L1189.7,374.2 L1191.6,373.6 L1193.4,372.9 L1195.2,372.2 L1197,371.5 L1198.9,370.7 L1200,370.3 L1205,370 L1205,900 L-5,900 Z" fill="#72e9ef"/>
<path d="M-5,142 L0,146.5 L1.5,147.9 L3,149.3 L4.5,150.7 L6,152 L7.5,153.4 L9.1,154.7 L10.6,156 L12.2,157.3 L13.8,158.5 L15.4,159.8 L17,161 L18.6,162.2 L20.2,163.4 L21.9,164.5 L23.5,165.7 L25.2,166.8 L26.8,167.9 L28.5,169 L30.2,170 L31.9,171.1 L33.6,172.1 L35.3,173.1 L37.1,174.1 L38.8,175 L40.6,176 L42.3,176.9 L44.1,177.8 L45.9,178.7 L47.6,179.6 L49.4,180.5 L51.2,181.3 L53,182.1 L54.9,182.9 L56.7,183.7 L58.5,184.4 L60.4,185.2 L62.2,185.9 L64.1,186.6 L65.9,187.3 L67.8,188 L69.7,188.6 L71.5,189.3 L73.4,189.9 L75.3,190.5 L77.2,191 L79.1,191.6 L81,192.1 L82.9,192.7 L84.9,193.2 L86.8,193.7 L88.7,194.1 L90.7,194.6 L92.6,195 L94.5,195.4 L96.5,195.8 L98.4,196.2 L100.4,196.6 L102.4,196.9 L104.3,197.3 L106.3,197.6 L108.3,197.9 L110.2,198.2 L112.2,198.4 L114.2,198.7 L116.2,198.9 L118.2,199.1 L120.2,199.3 L122.1,199.5 L124.1,199.6 L126.1,199.8 L128.1,199.9 L130.1,200 L132.1,200.1 L134.1,200.2 L136.1,200.2 L138.1,200.3 L140.1,200.3 L142.1,200.3 L144.1,200.3 L146.1,200.3 L148.1,200.3 L150.1,200.2 L152.1,200.1 L154.1,200.1 L156.1,200 L158.1,199.9 L160.1,199.8 L162.1,199.6 L164.1,199.5 L166.1,199.4 L168.1,199.2 L170.1,199.1 L172.1,198.9 L174.1,198.7 L176.1,198.5 L178.1,198.4 L180.1,198.2 L182.1,198 L184.1,197.8 L186.1,197.6 L188.2,197.4 L190.2,197.2 L192.2,197 L194.2,196.7 L196.2,196.5 L198.2,196.3 L200.2,196.1 L202.1,195.9 L204.1,195.7 L206.1,195.5 L208.1,195.3 L210.1,195.1 L212.1,194.9 L214.1,194.8 L216.1,194.6 L218.1,194.4 L220.1,194.2 L222.1,194.1 L224.1,193.9 L226.1,193.8 L228.1,193.7 L230.1,193.6 L232.1,193.4 L234,193.3 L236,193.3 L238,193.2 L240,193.1 L242,193.1 L244,193 L245.9,193 L247.9,193 L249.9,193 L251.9,193.1 L253.9,193.1 L255.8,193.2 L257.8,193.3 L259.8,193.4 L261.8,193.5 L263.7,193.6 L265.7,193.8 L267.7,194 L269.6,194.2 L271.6,194.4 L273.6,194.7 L275.5,194.9 L277.5,195.2 L279.4,195.6 L281.4,195.9 L283.3,196.3 L285.3,196.7 L287.3,197.1 L289.2,197.6 L291.2,198 L293.1,198.5 L295,199 L297,199.6 L298.9,200.1 L300.9,200.7 L302.8,201.3 L304.7,201.9 L306.6,202.6 L308.6,203.2 L310.5,203.9 L312.4,204.6 L314.3,205.3 L316.2,206 L318.1,206.8 L320,207.5 L321.9,208.3 L323.8,209.1 L325.7,209.9 L327.6,210.7 L329.5,211.5 L331.3,212.4 L333.2,213.2 L335.1,214.1 L336.9,214.9 L338.8,215.8 L340.6,216.7 L342.5,217.6 L344.3,218.5 L346.1,219.4 L348,220.3 L349.8,221.3 L351.6,222.2 L353.4,223.1 L355.2,224.1 L357,225 L358.8,226 L360.6,226.9 L362.3,227.9 L364.1,228.8 L365.9,229.8 L367.6,230.7 L369.4,231.6 L371.2,232.5 L372.9,233.3 L374.7,234.1 L376.5,234.9 L378.2,235.6 L380,236.2 L381.8,236.8 L383.6,237.4 L385.4,237.8 L387.3,238.2 L389.1,238.5 L390.9,238.8 L392.8,239 L394.6,239.1 L396.5,239.2 L398.3,239.2 L400.2,239.1 L402.1,239 L404,238.8 L405.9,238.5 L407.8,238.2 L409.7,237.8 L411.6,237.3 L413.5,236.7 L415.5,236.1 L417.4,235.5 L419.3,234.8 L421.3,234.1 L423.2,233.3 L425.2,232.6 L427.1,231.8 L429.1,231 L431.1,230.2 L433,229.4 L435,228.7 L437,227.9 L438.9,227.2 L440.9,226.6 L442.9,225.9 L444.8,225.4 L446.8,224.8 L448.8,224.3 L450.7,223.9 L452.7,223.5 L454.6,223.2 L456.5,223 L458.4,222.8 L460.4,222.6 L462.3,222.6 L464.1,222.6 L466,222.6 L467.9,222.8 L469.7,223 L471.5,223.2 L473.3,223.6 L475.1,224 L476.9,224.6 L478.6,225.2 L480.3,225.9 L482,226.6 L483.7,227.5 L485.3,228.4 L486.9,229.4 L488.6,230.4 L490.2,231.5 L491.8,232.7 L493.3,233.9 L494.9,235.1 L496.5,236.4 L498.1,237.7 L499.7,239 L501.2,240.4 L502.8,241.7 L504.4,243.1 L506,244.5 L507.6,245.9 L509.2,247.3 L510.7,248.7 L512.3,250.1 L513.9,251.5 L515.6,252.9 L517.2,254.3 L518.8,255.7 L520.4,257.1 L522,258.4 L523.7,259.8 L525.3,261.1 L527,262.4 L528.6,263.6 L530.3,264.9 L531.9,266.1 L533.6,267.2 L535.3,268.4 L537,269.5 L538.7,270.5 L540.4,271.5 L542.2,272.5 L543.9,273.4 L545.6,274.2 L547.4,275 L549.2,275.7 L550.9,276.4 L552.7,277 L554.5,277.5 L556.4,278 L558.2,278.4 L560,278.7 L561.9,278.9 L563.7,279.1 L565.6,279.2 L567.5,279.2 L569.4,279.1 L571.3,279 L573.2,278.8 L575.1,278.5 L577,278.2 L579,277.8 L580.9,277.4 L582.8,276.9 L584.7,276.3 L586.6,275.7 L588.5,275 L590.4,274.3 L592.3,273.5 L594.2,272.7 L596.1,271.9 L598,271 L599.8,270.1 L601.7,269.1 L603.5,268.1 L605.3,267.1 L607.1,266 L608.9,264.9 L610.6,263.8 L612.4,262.6 L614.1,261.4 L615.8,260.2 L617.5,259 L619.1,257.8 L620.7,256.5 L622.3,255.3 L623.9,254 L625.4,252.7 L626.9,251.4 L628.4,250.1 L629.9,248.8 L631.4,247.5 L632.8,246.1 L634.3,244.8 L635.8,243.5 L637.2,242.2 L638.7,240.9 L640.1,239.6 L641.6,238.3 L643.1,237 L644.5,235.7 L646,234.5 L647.6,233.2 L649.1,232 L650.7,230.8 L652.3,229.6 L653.9,228.4 L655.5,227.3 L657.2,226.2 L659,225.1 L660.7,224 L662.5,223 L664.4,222 L666.2,221 L668.1,220.1 L670.1,219.2 L672,218.4 L674,217.6 L675.9,216.9 L677.9,216.2 L679.9,215.6 L681.9,215.1 L684,214.6 L686,214.2 L688,213.8 L690,213.6 L691.9,213.4 L693.9,213.3 L695.8,213.2 L697.8,213.3 L699.7,213.5 L701.5,213.7 L703.4,214.1 L705.2,214.5 L707,215 L708.7,215.6 L710.4,216.3 L712.1,217.1 L713.8,217.9 L715.4,218.9 L717,219.9 L718.6,220.9 L720.2,222 L721.7,223.2 L723.2,224.5 L724.7,225.8 L726.2,227.1 L727.6,228.6 L729,230 L730.4,231.5 L731.8,233.1 L733.1,234.6 L734.4,236.3 L735.7,237.9 L737,239.6 L738.2,241.3 L739.5,243.1 L740.7,244.8 L741.9,246.6 L743.1,248.4 L744.2,250.2 L745.4,252 L746.6,253.7 L747.8,255.5 L748.9,257.3 L750.1,259 L751.3,260.6 L752.6,262.3 L753.8,263.9 L755.1,265.4 L756.4,266.9 L757.8,268.3 L759.2,269.6 L760.6,270.8 L762.1,272 L763.7,273 L765.2,274 L766.9,274.9 L768.5,275.8 L770.3,276.5 L772,277.2 L773.8,277.9 L775.6,278.4 L777.5,279 L779.3,279.5 L781.2,279.9 L783.2,280.3 L785.1,280.6 L787.1,281 L789.1,281.3 L791.1,281.5 L793.1,281.8 L795.1,282 L797.1,282.3 L799.1,282.5 L801.2,282.7 L803.2,282.9 L805.3,283.1 L807.3,283.4 L809.3,283.6 L811.4,283.8 L813.4,284.1 L815.4,284.4 L817.4,284.7 L819.3,285.1 L821.3,285.5 L823.2,285.9 L825.1,286.4 L827,286.9 L828.9,287.5 L830.8,288 L832.6,288.6 L834.5,289.3 L836.3,290 L838.1,290.7 L839.9,291.4 L841.6,292.2 L843.4,292.9 L845.2,293.8 L846.9,294.6 L848.6,295.5 L850.3,296.3 L852.1,297.2 L853.8,298.2 L855.4,299.1 L857.1,300.1 L858.8,301.1 L860.5,302.1 L862.1,303.1 L863.8,304.1 L865.4,305.2 L867.1,306.2 L868.7,307.3 L870.4,308.4 L872,309.5 L873.7,310.6 L875.3,311.7 L876.9,312.8 L878.6,313.9 L880.2,315.1 L881.8,316.2 L883.5,317.4 L885.1,318.5 L886.7,319.6 L888.4,320.8 L890,321.9 L891.7,323.1 L893.3,324.2 L895,325.4 L896.6,326.5 L898.3,327.7 L899.9,328.9 L901.6,330 L903.2,331.2 L904.9,332.3 L906.6,333.5 L908.2,334.7 L909.9,335.8 L911.6,337 L913.2,338.1 L914.9,339.3 L916.6,340.4 L918.3,341.6 L920,342.7 L921.6,343.8 L923.3,345 L925,346.1 L926.7,347.3 L928.4,348.4 L930.1,349.5 L931.8,350.6 L933.5,351.7 L935.2,352.8 L936.9,353.9 L938.6,355 L940.3,356.1 L942.1,357.2 L943.8,358.3 L945.5,359.4 L947.2,360.4 L949,361.5 L950.7,362.5 L952.4,363.6 L954.2,364.6 L955.9,365.6 L957.7,366.7 L959.4,367.7 L961.2,368.7 L962.9,369.6 L964.7,370.6 L966.4,371.6 L968.2,372.5 L970,373.5 L971.8,374.4 L973.5,375.4 L975.3,376.3 L977.1,377.2 L978.9,378.1 L980.7,378.9 L982.5,379.8 L984.3,380.6 L986.1,381.5 L987.9,382.3 L989.7,383.1 L991.6,383.9 L993.4,384.7 L995.2,385.5 L997,386.2 L998.9,387 L1000.7,387.7 L1002.6,388.4 L1004.4,389.1 L1006.3,389.7 L1008.2,390.4 L1010,391 L1011.9,391.7 L1013.8,392.3 L1015.6,392.9 L1017.5,393.4 L1019.4,394 L1021.3,394.5 L1023.2,395 L1025.1,395.5 L1027,396 L1029,396.5 L1030.9,396.9 L1032.8,397.3 L1034.7,397.7 L1036.7,398.1 L1038.6,398.4 L1040.6,398.8 L1042.5,399.1 L1044.5,399.4 L1046.4,399.7 L1048.4,399.9 L1050.4,400.2 L1052.3,400.4 L1054.3,400.6 L1056.3,400.8 L1058.2,401 L1060.2,401.1 L1062.2,401.3 L1064.2,401.4 L1066.2,401.5 L1068.2,401.6 L1070.2,401.6 L1072.2,401.7 L1074.2,401.7 L1076.2,401.7 L1078.2,401.7 L1080.2,401.7 L1082.2,401.6 L1084.2,401.6 L1086.2,401.5 L1088.2,401.4 L1090.2,401.3 L1092.2,401.2 L1094.2,401 L1096.2,400.9 L1098.2,400.7 L1100.2,400.5 L1102.2,400.3 L1104.2,400.1 L1106.2,399.8 L1108.2,399.6 L1110.2,399.3 L1112.2,399 L1114.2,398.7 L1116.2,398.4 L1118.2,398.1 L1120.2,397.8 L1122.2,397.4 L1124.2,397 L1126.2,396.6 L1128.1,396.2 L1130.1,395.8 L1132.1,395.4 L1134.1,395 L1136,394.5 L1138,394 L1140,393.6 L1141.9,393.1 L1143.9,392.5 L1145.8,392 L1147.8,391.5 L1149.7,390.9 L1151.7,390.4 L1153.6,389.8 L1155.5,389.2 L1157.5,388.6 L1159.4,388 L1161.3,387.4 L1163.2,386.7 L1165.1,386.1 L1167,385.4 L1168.9,384.7 L1170.8,384 L1172.6,383.3 L1174.5,382.6 L1176.4,381.9 L1178.2,381.2 L1180.1,380.4 L1181.9,379.7 L1183.8,378.9 L1185.6,378.1 L1187.4,377.3 L1189.2,376.5 L1191,375.7 L1192.8,374.9 L1194.6,374.1 L1196.4,373.2 L1198.2,372.4 L1199.9,371.5 L1200,371.5 L1205,371 L1205,900 L-5,900 Z" fill="#49aebb"/>
<path d="M119.3,0 L121,1.1 L122.6,2.3 L124.2,3.5 L125.8,4.7 L127.3,5.9 L128.9,7.2 L130.4,8.5 L131.9,9.9 L133.3,11.2 L134.8,12.6 L136.2,14 L137.6,15.4 L139,16.9 L140.4,18.3 L141.7,19.8 L143.1,21.3 L144.4,22.8 L145.8,24.3 L147.1,25.8 L148.4,27.4 L149.7,28.9 L151,30.4 L152.3,32 L153.6,33.5 L154.9,35.1 L156.1,36.6 L157.4,38.2 L158.7,39.7 L160,41.2 L161.3,42.8 L162.6,44.3 L163.9,45.8 L165.2,47.3 L166.6,48.8 L167.9,50.3 L169.2,51.7 L170.6,53.2 L172,54.6 L173.3,56 L174.7,57.4 L176.2,58.7 L177.6,60 L179,61.4 L180.5,62.6 L182,63.9 L183.5,65.1 L185.1,66.3 L186.6,67.4 L188.2,68.6 L189.9,69.7 L191.5,70.7 L193.2,71.7 L194.9,72.7 L196.7,73.6 L198.4,74.5 L200.2,75.3 L202.1,76.1 L204,76.8 L205.9,77.5 L207.9,78.2 L209.9,78.8 L211.9,79.3 L214,79.8 L215,80" fill="none" stroke="#86e4ef" stroke-width="1.25"/>
<path d="M147.3,-0 L148.4,1.8 L149.6,3.6 L150.8,5.4 L152.1,7.1 L153.3,8.9 L154.6,10.6 L155.9,12.2 L157.2,13.9 L158.6,15.5 L160,17.1 L161.4,18.6 L162.8,20.1 L164.2,21.6 L165.7,23.1 L167.2,24.5 L168.7,25.9 L170.2,27.2 L171.8,28.5 L173.3,29.8 L174.9,31.1 L176.5,32.3 L178.1,33.5 L179.8,34.6 L181.4,35.7 L183.1,36.8 L184.8,37.8 L186.4,38.8 L188.2,39.8 L189.9,40.7 L191.6,41.6 L193.3,42.4 L195.1,43.2 L196.9,43.9 L198.6,44.7 L200.4,45.3 L202.2,46 L204,46.5 L205.9,47.1 L207.7,47.6 L209.5,48 L211.3,48.5 L213.2,48.8 L215.1,49.2 L216.9,49.5 L218.8,49.7 L220.7,49.9 L222.5,50.1 L224.4,50.3 L226.3,50.4 L228.2,50.5 L230.1,50.5 L232,50.5 L234,50.5 L235.9,50.5 L237.8,50.4 L239.7,50.3 L241.7,50.2 L243.6,50 L245.5,49.8 L247.5,49.6 L249.4,49.3 L251.4,49.1 L253.4,48.8 L255.3,48.5 L257.3,48.1 L259.2,47.8 L261.2,47.4 L263.2,47 L265.1,46.6 L267.1,46.1 L269.1,45.7 L271.1,45.2 L273,44.7 L275,44.2 L277,43.7 L279,43.1 L280.9,42.6 L282.9,42 L284.9,41.5 L286.8,40.9 L288.8,40.3 L290.8,39.7 L292.8,39.1 L294.7,38.4 L296.7,37.8 L298.7,37.2 L300.6,36.5 L302.6,35.9 L304.5,35.2 L306.5,34.6 L308.4,33.9 L310.4,33.3 L312.3,32.6 L314.3,32 L316.2,31.3 L318.1,30.7 L320.1,30.1 L322,29.5 L323.9,28.8 L325.9,28.2 L327.8,27.6 L329.7,27.1 L331.6,26.5 L333.6,25.9 L335.5,25.4 L337.4,24.9 L339.3,24.4 L341.2,23.9 L343.1,23.5 L345,23 L346.9,22.6 L348.8,22.2 L350.7,21.9 L352.6,21.6 L354.5,21.3 L356.4,21 L358.3,20.7 L360.2,20.5 L362.1,20.4 L364,20.2 L365.9,20.1 L367.8,20.1 L369.6,20.1 L371.5,20.1 L373.4,20.1 L375.3,20.2 L377.2,20.3 L379,20.5 L380.9,20.7 L382.8,20.9 L384.6,21.2 L386.5,21.5 L388.4,21.8 L390.2,22.2 L392.1,22.6 L393.9,23 L395.8,23.5 L397.7,24 L399.5,24.5 L401.4,25 L403.2,25.6 L405,26.2 L406.9,26.8 L408.7,27.4 L410.6,28.1 L412.4,28.8 L414.2,29.5 L416.1,30.3 L417.9,31.1 L419.7,31.8 L421.5,32.7 L423.4,33.5 L425.2,34.3 L427,35.2 L428.8,36.1 L430.6,37 L432.4,37.9 L434.2,38.9 L436,39.9 L437.8,40.8 L439.6,41.8 L441.4,42.8 L443.2,43.8 L445,44.8 L446.8,45.9 L448.6,46.9 L450.4,48 L452.2,49 L454,50.1 L455.8,51.1 L457.6,52.2 L459.4,53.2 L461.1,54.3 L462.9,55.3 L464.7,56.4 L466.5,57.4 L468.3,58.4 L470.1,59.5 L471.9,60.5 L473.7,61.5 L475.5,62.5 L477.3,63.5 L479.1,64.5 L480.9,65.4 L482.7,66.4 L484.6,67.3 L486.4,68.2 L488.2,69.1 L490,69.9 L491.8,70.8 L493.7,71.6 L495.5,72.4 L497.4,73.2 L499.2,73.9 L501,74.6 L502.9,75.3 L504.8,76 L506.6,76.6 L508.5,77.2 L510.4,77.7 L512.3,78.3 L514.2,78.7 L516,79.2 L517.9,79.6 L519.9,80 L520,80" fill="none" stroke="#86e4ef" stroke-width="1.25"/>
<path d="M260,80 L261.9,79.5 L263.8,79 L265.8,78.5 L267.7,78 L269.6,77.5 L271.5,77 L273.5,76.5 L275.4,76.1 L277.4,75.6 L279.3,75.1 L281.3,74.7 L283.2,74.2 L285.2,73.7 L287.1,73.3 L289.1,72.9 L291,72.4 L293,72 L294.9,71.6 L296.9,71.2 L298.9,70.8 L300.9,70.4 L302.8,70 L304.8,69.6 L306.8,69.2 L308.7,68.9 L310.7,68.5 L312.7,68.2 L314.7,67.8 L316.7,67.5 L318.7,67.2 L320.6,66.9 L322.6,66.6 L324.6,66.3 L326.6,66 L328.6,65.7 L330.6,65.4 L332.6,65.2 L334.6,64.9 L336.6,64.7 L338.5,64.5 L340.5,64.3 L342.5,64.1 L344.5,63.9 L346.5,63.7 L348.5,63.6 L350.5,63.4 L352.5,63.3 L354.5,63.1 L356.5,63 L358.5,62.9 L360.5,62.8 L362.5,62.8 L364.5,62.7 L366.5,62.6 L368.5,62.6 L370.4,62.6 L372.4,62.6 L374.4,62.6 L376.4,62.6 L378.4,62.7 L380.4,62.7 L382.4,62.8 L384.4,62.9 L386.3,63 L388.3,63.1 L390.3,63.2 L392.3,63.3 L394.3,63.5 L396.2,63.7 L398.2,63.9 L400.2,64.1 L402.2,64.3 L404.1,64.6 L406.1,64.8 L408.1,65.1 L410,65.4 L412,65.7 L413.9,66.1 L415.9,66.4 L417.8,66.8 L419.8,67.2 L421.7,67.6 L423.7,68 L425.6,68.5 L427.6,68.9 L429.5,69.4 L431.4,69.9 L433.4,70.5 L435.3,71 L437.2,71.6 L439.2,72.2 L441.1,72.8 L443,73.4 L444.9,74 L446.8,74.7 L448.7,75.4 L450.6,76.1 L452.5,76.9 L454.4,77.6 L456.3,78.4 L458.2,79.2 L460,80" fill="none" stroke="#86e4ef" stroke-width="1.25"/>
<path d="M550,80 L551.8,79 L553.6,78 L555.5,77 L557.3,76 L559.1,75.1 L560.9,74.1 L562.8,73.2 L564.6,72.3 L566.4,71.4 L568.3,70.5 L570.1,69.6 L572,68.7 L573.8,67.9 L575.7,67.1 L577.6,66.2 L579.4,65.4 L581.3,64.6 L583.1,63.8 L585,63.1 L586.9,62.3 L588.8,61.6 L590.6,60.8 L592.5,60.1 L594.4,59.4 L596.3,58.7 L598.2,58 L600.1,57.3 L602,56.7 L603.9,56 L605.8,55.4 L607.7,54.8 L609.6,54.2 L611.5,53.6 L613.4,53 L615.3,52.4 L617.2,51.9 L619.2,51.3 L621.1,50.8 L623,50.3 L624.9,49.7 L626.8,49.3 L628.8,48.8 L630.7,48.3 L632.6,47.8 L634.6,47.4 L636.5,46.9 L638.5,46.5 L640.4,46.1 L642.3,45.7 L644.3,45.3 L646.2,44.9 L648.2,44.6 L650.1,44.2 L652.1,43.9 L654,43.5 L656,43.2 L657.9,42.9 L659.9,42.6 L661.8,42.3 L663.8,42 L665.8,41.8 L667.7,41.5 L669.7,41.3 L671.7,41 L673.6,40.8 L675.6,40.6 L677.6,40.4 L679.5,40.2 L681.5,40 L683.5,39.8 L685.4,39.7 L687.4,39.5 L689.4,39.4 L691.4,39.3 L693.3,39.2 L695.3,39.1 L697.3,39 L699.3,38.9 L701.2,38.8 L703.2,38.8 L705.2,38.7 L707.2,38.7 L709.2,38.6 L711.1,38.6 L713.1,38.6 L715.1,38.6 L717.1,38.6 L719.1,38.6 L721.1,38.6 L723,38.7 L725,38.7 L727,38.8 L729,38.9 L731,38.9 L733,39 L735,39.1 L736.9,39.2 L738.9,39.3 L740.9,39.5 L742.9,39.6 L744.9,39.7 L746.9,39.9 L748.8,40.1 L750.8,40.2 L752.8,40.4 L754.8,40.6 L756.8,40.8 L758.8,41 L760.7,41.2 L762.7,41.5 L764.7,41.7 L766.7,41.9 L768.7,42.2 L770.6,42.5 L772.6,42.7 L774.6,43 L776.6,43.3 L778.6,43.6 L780.5,43.9 L782.5,44.2 L784.5,44.5 L786.5,44.9 L788.4,45.2 L790.4,45.6 L792.4,45.9 L794.3,46.3 L796.3,46.7 L798.3,47 L800.2,47.4 L802.2,47.8 L804.2,48.2 L806.1,48.6 L808.1,49.1 L810,49.5 L812,49.9 L814,50.4 L815.9,50.8 L817.9,51.3 L819.8,51.8 L821.8,52.2 L823.7,52.7 L825.7,53.2 L827.6,53.7 L829.6,54.2 L831.5,54.7 L833.4,55.3 L835.4,55.8 L837.3,56.3 L839.2,56.9 L841.2,57.4 L843.1,58 L845,58.6 L847,59.1 L848.9,59.7 L850.8,60.3 L852.7,60.9 L854.6,61.5 L856.6,62.1 L858.5,62.7 L860.4,63.3 L862.3,64 L864.2,64.6 L866.1,65.2 L868,65.9 L869.9,66.5 L871.8,67.2 L873.7,67.9 L875.6,68.5 L877.5,69.2 L879.3,69.9 L881.2,70.6 L883.1,71.3 L885,72 L886.9,72.7 L888.7,73.4 L890.6,74.2 L892.5,74.9 L894.3,75.6 L896.2,76.4 L898,77.1 L899.9,77.9 L901.7,78.6 L903.6,79.4 L905,80" fill="none" stroke="#86e4ef" stroke-width="1.25"/>
<path d="M650,80 L651.8,79.3 L653.6,78.6 L655.4,77.9 L657.3,77.3 L659.1,76.7 L661,76.1 L662.9,75.5 L664.8,75 L666.7,74.5 L668.6,74 L670.5,73.5 L672.4,73 L674.4,72.6 L676.3,72.2 L678.3,71.8 L680.2,71.4 L682.2,71.1 L684.2,70.8 L686.2,70.5 L688.2,70.2 L690.2,69.9 L692.2,69.7 L694.2,69.5 L696.2,69.3 L698.2,69.1 L700.2,68.9 L702.3,68.8 L704.3,68.7 L706.3,68.6 L708.3,68.5 L710.4,68.5 L712.4,68.5 L714.5,68.4 L716.5,68.5 L718.5,68.5 L720.6,68.5 L722.6,68.6 L724.7,68.7 L726.7,68.8 L728.7,68.9 L730.8,69.1 L732.8,69.2 L734.8,69.4 L736.8,69.6 L738.9,69.8 L740.9,70 L742.9,70.3 L744.9,70.6 L746.9,70.8 L748.9,71.2 L750.9,71.5 L752.9,71.8 L754.9,72.2 L756.8,72.5 L758.8,72.9 L760.8,73.3 L762.7,73.8 L764.7,74.2 L766.6,74.7 L768.5,75.1 L770.4,75.6 L772.3,76.1 L774.2,76.7 L776.1,77.2 L778,77.7 L779.8,78.3 L781.7,78.9 L783.5,79.5 L785,80" fill="none" stroke="#86e4ef" stroke-width="1.25"/>
<path d="M1131,-3 L1129.9,-1.5 L1128.8,0.1 L1127.6,1.6 L1126.4,3.2 L1125.2,4.7 L1124,6.3 L1122.7,7.9 L1121.4,9.5 L1120.2,11.2 L1118.9,12.8 L1117.7,14.5 L1116.5,16.2 L1115.3,17.9 L1114.2,19.6 L1113.1,21.3 L1112,23.1 L1111.1,24.8 L1110.1,26.6 L1109.3,28.5 L1108.5,30.3 L1107.8,32.1 L1107.2,34 L1106.7,35.9 L1106.3,37.9 L1106,39.8 L1105.8,41.7 L1105.7,43.7 L1105.7,45.7 L1105.8,47.7 L1106,49.6 L1106.3,51.6 L1106.7,53.5 L1107.2,55.5 L1107.8,57.4 L1108.4,59.3 L1109,61.2 L1109.6,63.1 L1110,65 L1110.2,66.8 L1110.2,68.7 L1109.9,70.5 L1109.5,72.3 L1108.8,74 L1107.9,75.7 L1106.8,77.3 L1105.6,78.9 L1104.2,80.5 L1102.7,82 L1101.2,83.5 L1099.6,84.9 L1098,86.3 L1096.4,87.6 L1094.8,88.9 L1093.2,90.2 L1091.6,91.5 L1090,92.7 L1088.4,93.9 L1086.8,95 L1085.2,96.1 L1083.5,97.2 L1081.9,98.2 L1080.2,99.2 L1078.4,100.2 L1076.7,101.2 L1075,102" fill="none" stroke="#86e4ef" stroke-width="1.25"/>
<path d="M1183,-0 L1181.4,1.4 L1179.9,2.8 L1178.4,4.2 L1176.9,5.7 L1175.5,7.1 L1174.2,8.6 L1172.9,10.2 L1171.6,11.7 L1170.4,13.3 L1169.2,14.8 L1168,16.4 L1166.9,18 L1165.8,19.7 L1164.8,21.3 L1163.8,23 L1162.8,24.7 L1161.8,26.4 L1160.9,28.1 L1160,29.8 L1159.1,31.5 L1158.2,33.3 L1157.4,35 L1156.6,36.8 L1155.8,38.6 L1155,40.3 L1154.2,42.1 L1153.4,43.9 L1152.7,45.7 L1152,47.5 L1151.2,49.3 L1150.5,51.2 L1149.8,53 L1149.1,54.8 L1148.4,56.6 L1147.7,58.5 L1147,60.3 L1146.3,62.1 L1145.6,63.9 L1144.9,65.8 L1144.2,67.6 L1143.5,69.4 L1142.8,71.2 L1142,73 L1141.3,74.9 L1140.6,76.7 L1139.8,78.4 L1139,80.2 L1138.2,82 L1137.4,83.8 L1136.6,85.6 L1135.7,87.3 L1134.8,89 L1134,90.8 L1133,92.5 L1132.1,94.2 L1131.1,95.9 L1130.1,97.6 L1129.1,99.2 L1128,100.9 L1126.9,102.5 L1125.8,104.1 L1124.6,105.7 L1123.5,107.3 L1122.2,108.9 L1121,110.4 L1119.7,112 L1118.4,113.5 L1117.1,115 L1115.8,116.5 L1114.4,117.9 L1113,119.4 L1111.6,120.8 L1110.2,122.2 L1108.7,123.6 L1107.2,125 L1105.7,126.4 L1104.2,127.7 L1102.6,129 L1101.1,130.3 L1099.5,131.6 L1097.9,132.9 L1096.2,134.1 L1094.6,135.3 L1092.9,136.5 L1091.2,137.7 L1089.6,138.9 L1087.8,140 L1086.1,141.1 L1084.4,142.2 L1082.6,143.3 L1080.9,144.4 L1079.1,145.4 L1077.3,146.4 L1075.5,147.4 L1073.7,148.4 L1071.8,149.3 L1070,150.2 L1068.2,151.1 L1066.3,152 L1064.4,152.9 L1062.6,153.7 L1060.7,154.5 L1058.8,155.3 L1056.9,156.1 L1055,156.8 L1053.1,157.5 L1051.2,158.2 L1049.3,158.9 L1047.4,159.5 L1045.4,160.1 L1043.5,160.7 L1041.6,161.3 L1039.7,161.8 L1037.7,162.3 L1035.8,162.8 L1033.9,163.2 L1032,163.7 L1030,164.1 L1028.1,164.4 L1026.2,164.8 L1024.2,165.1 L1022.3,165.4 L1020.4,165.6 L1018.4,165.8 L1016.5,166 L1014.6,166.2 L1012.6,166.3 L1010.7,166.4 L1008.8,166.5 L1006.8,166.5 L1004.9,166.5 L1003,166.5 L1001.1,166.4 L999.2,166.3 L997.3,166.1 L995.4,166 L993.5,165.7 L991.6,165.5 L989.7,165.2 L987.8,164.9 L985.9,164.5 L984,164.1 L982.1,163.7 L980.3,163.2 L978.4,162.7 L976.5,162.1 L974.7,161.5 L972.9,160.9 L971,160.2 L969.2,159.5 L967.4,158.8 L965.5,158 L963.7,157.2 L961.9,156.4 L960.1,155.5 L958.3,154.6 L956.5,153.7 L954.7,152.8 L953,151.8 L951.2,150.8 L949.4,149.8 L947.7,148.8 L945.9,147.7 L944.1,146.6 L942.4,145.6 L940.7,144.5 L938.9,143.3 L937.2,142.2 L935.5,141.1 L933.8,139.9 L932.1,138.8 L930.3,137.6 L928.6,136.5 L927,135.3 L925.3,134.1 L923.6,132.9 L921.9,131.8 L920.2,130.6 L918.6,129.4 L916.9,128.3 L915.2,127.1 L913.6,125.9 L911.9,124.8 L910.3,123.6 L908.7,122.5 L907,121.4 L905.4,120.3 L905,120" fill="none" stroke="#86e4ef" stroke-width="1.25"/>
<path d="M0,56.9 L1.1,58.3 L2.2,59.7 L3.3,61.2 L4.4,62.6 L5.5,64.1 L6.6,65.6 L7.7,67.1 L8.9,68.6 L10,70.1 L11.2,71.7 L12.4,73.2 L13.5,74.8 L14.7,76.3 L15.9,77.9 L17.1,79.5 L18.3,81.1 L19.5,82.7 L20.8,84.3 L22,85.9 L23.2,87.5 L24.5,89.1 L25.8,90.7 L27,92.4 L28.3,94 L29.6,95.6 L30.9,97.2 L32.2,98.8 L33.5,100.5 L34.8,102.1 L36.2,103.7 L37.5,105.3 L38.9,106.9 L40.2,108.5 L41.6,110.1 L43,111.7 L44.4,113.3 L45.8,114.9 L47.2,116.4 L48.6,118 L50,119.5 L51.5,121.1 L52.9,122.6 L54.3,124.1 L55.8,125.6 L57.3,127.1 L58.8,128.6 L60.3,130 L61.8,131.4 L63.3,132.9 L64.8,134.3 L66.3,135.7 L67.8,137 L69.4,138.4 L70.9,139.7 L72.5,141 L74.1,142.3 L75.7,143.6 L77.3,144.8 L78.9,146 L80.5,147.2 L82.1,148.4 L83.7,149.5 L85.4,150.6 L87,151.7 L88.7,152.8 L90.4,153.8 L92,154.8 L93.7,155.8 L95.4,156.7 L97.1,157.6 L98.9,158.5 L100.6,159.3 L102.3,160.2 L104.1,160.9 L105.8,161.7 L107.6,162.4 L109.4,163.1 L111.2,163.7 L113,164.3 L114.8,164.9 L116.6,165.4 L118.4,166 L120.2,166.5 L122.1,166.9 L123.9,167.4 L125.8,167.8 L127.6,168.2 L129.5,168.5 L131.4,168.9 L133.3,169.2 L135.2,169.5 L137.1,169.7 L139,170 L140.9,170.2 L142.8,170.4 L144.7,170.6 L146.7,170.7 L148.6,170.8 L150.5,171 L152.5,171 L154.4,171.1 L156.4,171.2 L158.4,171.2 L160.3,171.2 L162.3,171.2 L164.3,171.2 L166.3,171.2 L168.3,171.2 L170.3,171.1 L172.3,171.1 L174.3,171 L176.3,170.9 L178.3,170.8 L180.3,170.7 L182.4,170.5 L184.4,170.4 L186.4,170.2 L188.4,170.1 L190.5,169.9 L192.5,169.7 L194.6,169.6 L196.6,169.4 L198.6,169.2 L200.7,169 L202.7,168.8 L204.8,168.6 L206.8,168.4 L208.9,168.1 L211,167.9 L213,167.7 L215.1,167.5 L217.1,167.2 L219.2,167 L221.3,166.8 L223.3,166.6 L225.4,166.3 L227.5,166.1 L229.5,165.9 L231.6,165.7 L233.7,165.4 L235.7,165.2 L237.8,165 L239.9,164.8 L241.9,164.6 L244,164.4 L246.1,164.2 L248.1,164.1 L250.2,163.9 L252.2,163.7 L254.3,163.6 L256.4,163.4 L258.4,163.3 L260.5,163.1 L262.5,163 L264.6,162.9 L266.6,162.8 L268.7,162.8 L270.7,162.7 L272.7,162.6 L274.8,162.6 L276.8,162.6 L278.8,162.6 L280.9,162.6 L282.9,162.6 L284.9,162.6 L286.9,162.7 L288.9,162.8 L291,162.8 L293,162.9 L295,163.1 L297,163.2 L299,163.3 L301,163.5 L302.9,163.7 L304.9,163.8 L306.9,164 L308.9,164.2 L310.9,164.5 L312.9,164.7 L314.8,164.9 L316.8,165.2 L318.8,165.4 L320.7,165.7 L322.7,166 L324.7,166.3 L326.6,166.6 L328.6,166.9 L330.6,167.2 L332.5,167.5 L334.5,167.9 L336.4,168.2 L338.4,168.5 L340.3,168.9 L342.2,169.2 L344.2,169.6 L346.1,170 L348.1,170.3 L350,170.7 L351.9,171.1 L353.9,171.5 L355.8,171.9 L357.7,172.3 L359.7,172.6 L361.6,173 L363.5,173.4 L365.5,173.8 L367.4,174.2 L369.3,174.6 L371.2,175 L373.2,175.4 L375.1,175.8 L377,176.2 L378.9,176.6 L380.8,177 L382.8,177.4 L384.7,177.8 L386.6,178.2 L388.5,178.6 L390.4,179 L392.4,179.4 L394.3,179.7 L396.2,180.1 L398.1,180.5 L400,180.9 L401.9,181.2 L403.9,181.6 L405.8,181.9 L407.7,182.3 L409.6,182.6 L411.5,182.9 L413.4,183.2 L415.4,183.6 L417.3,183.9 L419.2,184.2 L421.1,184.5 L423,184.8 L424.9,185.1 L426.9,185.4 L428.8,185.7 L430.7,185.9 L432.6,186.2 L434.6,186.5 L436.5,186.8 L438.4,187.1 L440.3,187.4 L442.2,187.7 L444.2,188.1 L446.1,188.4 L448,188.7 L450,189 L451.9,189.4 L453.8,189.7 L455.7,190.1 L457.7,190.4 L459.6,190.8 L461.5,191.2 L463.5,191.6 L465.4,192 L467.3,192.4 L469.3,192.9 L471.2,193.3 L473.2,193.8 L475.1,194.3 L477,194.8 L479,195.3 L480.9,195.8 L482.9,196.4 L484.8,197 L486.8,197.6 L488.7,198.2 L490.7,198.8 L492.6,199.5 L494.6,200.2 L496.5,200.9 L498.5,201.6 L500.4,202.4 L502.4,203.2 L504.4,204 L506.3,204.8 L508.3,205.6 L510.3,206.5 L512.2,207.4 L514.2,208.3 L516.1,209.2 L518.1,210.1 L520.1,211 L522,212 L524,212.9 L526,213.9 L527.9,214.8 L529.9,215.8 L531.8,216.7 L533.8,217.7 L535.7,218.6 L537.7,219.6 L539.6,220.5 L541.6,221.4 L543.5,222.3 L545.5,223.2 L547.4,224.1 L549.3,225 L551.3,225.9 L553.2,226.7 L555.1,227.5 L557,228.3 L558.9,229.1 L560.8,229.8 L562.7,230.6 L564.6,231.3 L566.5,231.9 L568.4,232.5 L570.3,233.1 L572.1,233.7 L574,234.2 L575.9,234.7 L577.7,235.2 L579.6,235.6 L581.4,235.9 L583.2,236.2 L585.1,236.5 L586.9,236.7 L588.7,236.9 L590.5,237 L592.3,237.1 L594.1,237.1 L595.8,237 L597.6,236.9 L599.4,236.7 L601.1,236.5 L602.8,236.2 L604.6,235.9 L606.3,235.4 L608,234.9 L609.7,234.4 L611.4,233.7 L613.1,233 L614.7,232.3 L616.4,231.4 L618.1,230.6 L619.7,229.6 L621.3,228.7 L623,227.6 L624.6,226.6 L626.2,225.5 L627.9,224.3 L629.5,223.2 L631.1,222 L632.8,220.7 L634.4,219.5 L636,218.2 L637.6,217 L639.3,215.7 L640.9,214.4 L642.5,213.1 L644.2,211.8 L645.8,210.5 L647.5,209.2 L649.2,207.9 L650.8,206.6 L652.5,205.4 L654.2,204.1 L655.9,202.9 L657.6,201.7 L659.3,200.6 L661.1,199.4 L662.8,198.3 L664.6,197.3 L666.3,196.3 L668.1,195.3 L669.9,194.4 L671.7,193.5 L673.5,192.6 L675.4,191.8 L677.2,191 L679,190.3 L680.9,189.6 L682.7,188.9 L684.6,188.3 L686.4,187.7 L688.3,187.2 L690.2,186.7 L692,186.3 L693.9,185.9 L695.8,185.5 L697.7,185.2 L699.5,185 L701.4,184.8 L703.3,184.6 L705.2,184.5 L707,184.4 L708.9,184.4 L710.7,184.5 L712.6,184.6 L714.5,184.7 L716.3,184.9 L718.1,185.1 L720,185.4 L721.8,185.8 L723.6,186.1 L725.4,186.6 L727.2,187.1 L729,187.7 L730.8,188.3 L732.5,188.9 L734.3,189.6 L736,190.4 L737.8,191.2 L739.5,192.1 L741.2,192.9 L742.9,193.9 L744.6,194.8 L746.3,195.8 L748,196.8 L749.7,197.8 L751.4,198.9 L753.1,200 L754.8,201.1 L756.5,202.2 L758.2,203.4 L759.8,204.5 L761.5,205.7 L763.2,206.8 L764.9,208 L766.6,209.2 L768.3,210.3 L770,211.5 L771.7,212.6 L773.4,213.8 L775.1,214.9 L776.8,216.1 L778.5,217.2 L780.3,218.2 L782,219.3 L783.7,220.4 L785.5,221.4 L787.3,222.4 L789,223.3 L790.8,224.2 L792.6,225.1 L794.4,226 L796.3,226.8 L798.1,227.5 L800,228.3 L801.8,228.9 L803.7,229.5 L805.6,230.1 L807.5,230.6 L809.4,231.1 L811.4,231.6 L813.3,232 L815.3,232.4 L817.2,232.7 L819.2,233.1 L821.2,233.4 L823.2,233.6 L825.2,233.9 L827.2,234.1 L829.2,234.3 L831.2,234.5 L833.2,234.6 L835.2,234.8 L837.2,235 L839.3,235.1 L841.3,235.2 L843.3,235.3 L845.3,235.5 L847.4,235.6 L849.4,235.7 L851.4,235.9 L853.4,236 L855.4,236.1 L857.4,236.3 L859.4,236.5 L861.4,236.6 L863.4,236.8 L865.4,237.1 L867.4,237.3 L869.4,237.6 L871.3,237.8 L873.3,238.2 L875.2,238.5 L877.2,238.9 L879.1,239.3 L881,239.7 L882.9,240.2 L884.8,240.7 L886.6,241.3 L888.5,241.9 L890.3,242.5 L892.2,243.2 L894,243.9 L895.8,244.6 L897.6,245.3 L899.4,246.1 L901.2,246.9 L903,247.7 L904.8,248.6 L906.5,249.4 L908.3,250.3 L910.1,251.2 L911.8,252.2 L913.6,253.1 L915.3,254 L917.1,255 L918.8,256 L920.5,257 L922.3,258 L924,259 L925.8,260 L927.5,261 L929.3,262 L931,263 L932.8,264.1 L934.5,265.1 L936.3,266.1 L938,267.1 L939.8,268.1 L941.6,269.1 L943.3,270.1 L945.1,271.1 L946.9,272.1 L948.7,273 L950.5,274 L952.3,275 L954.2,275.9 L956,276.8 L957.8,277.7 L959.6,278.6 L961.5,279.5 L963.3,280.4 L965.2,281.3 L967,282.2 L968.9,283 L970.8,283.8 L972.6,284.7 L974.5,285.5 L976.4,286.3 L978.3,287.1 L980.2,287.8 L982.1,288.6 L984,289.3 L985.9,290.1 L987.8,290.8 L989.7,291.5 L991.6,292.2 L993.5,292.8 L995.4,293.5 L997.4,294.1 L999.3,294.8 L1001.2,295.4 L1003.2,296 L1005.1,296.6 L1007,297.1 L1009,297.7 L1010.9,298.2 L1012.9,298.7 L1014.8,299.2 L1016.8,299.7 L1018.7,300.2 L1020.7,300.6 L1022.7,301 L1024.6,301.4 L1026.6,301.8 L1028.5,302.2 L1030.5,302.6 L1032.5,302.9 L1034.4,303.2 L1036.4,303.5 L1038.4,303.8 L1040.4,304 L1042.3,304.3 L1044.3,304.5 L1046.3,304.7 L1048.2,304.9 L1050.2,305 L1052.2,305.2 L1054.2,305.3 L1056.1,305.4 L1058.1,305.4 L1060.1,305.5 L1062.1,305.5 L1064,305.5 L1066,305.5 L1068,305.4 L1069.9,305.4 L1071.9,305.3 L1073.9,305.2 L1075.8,305 L1077.8,304.9 L1079.8,304.7 L1081.7,304.5 L1083.7,304.3 L1085.6,304 L1087.6,303.8 L1089.5,303.5 L1091.5,303.1 L1093.4,302.8 L1095.3,302.4 L1097.3,302 L1099.2,301.6 L1101.1,301.2 L1103,300.8 L1104.9,300.3 L1106.8,299.8 L1108.7,299.3 L1110.6,298.7 L1112.5,298.1 L1114.4,297.5 L1116.3,296.9 L1118.1,296.3 L1120,295.6 L1121.9,295 L1123.7,294.3 L1125.5,293.5 L1127.4,292.8 L1129.2,292 L1131,291.2 L1132.8,290.4 L1134.6,289.6 L1136.4,288.7 L1138.1,287.9 L1139.9,287 L1141.7,286.1 L1143.4,285.1 L1145.1,284.1 L1146.9,283.2 L1148.6,282.2 L1150.3,281.1 L1151.9,280.1 L1153.6,279 L1155.3,277.9 L1156.9,276.8 L1158.6,275.7 L1160.2,274.5 L1161.8,273.3 L1163.4,272.1 L1165,270.9 L1166.6,269.7 L1168.1,268.4 L1169.6,267.1 L1171.2,265.8 L1172.7,264.5 L1174.2,263.2 L1175.7,261.8 L1177.1,260.4 L1178.6,259 L1180,257.6 L1181.4,256.1 L1182.8,254.6 L1184.2,253.2 L1185.6,251.6 L1186.9,250.1 L1188.2,248.6 L1189.5,247 L1190.8,245.4 L1192.1,243.8 L1193.4,242.2 L1194.6,240.5 L1195.8,238.8 L1197,237.1 L1198.2,235.4 L1199.3,233.7 L1200,232.7" fill="none" stroke="#86e4ef" stroke-width="1.25"/>
<path d="M-0,120 L1.6,120.9 L3.2,121.9 L4.8,122.9 L6.4,123.9 L8,124.9 L9.6,126 L11.2,127.1 L12.8,128.2 L14.4,129.4 L16,130.6 L17.7,131.7 L19.3,133 L20.9,134.2 L22.5,135.4 L24.1,136.7 L25.7,138 L27.3,139.2 L28.9,140.5 L30.5,141.8 L32.1,143.1 L33.7,144.4 L35.4,145.7 L37,147 L38.6,148.3 L40.2,149.6 L41.9,150.9 L43.5,152.2 L45.2,153.5 L46.8,154.8 L48.5,156 L50.1,157.3 L51.8,158.5 L53.5,159.7 L55.2,160.9 L56.8,162.1 L58.5,163.3 L60.2,164.4 L61.9,165.6 L63.7,166.7 L65.4,167.7 L67.1,168.8 L68.9,169.8 L70.6,170.7 L72.4,171.7 L74.1,172.6 L75.9,173.5 L77.7,174.3 L79.5,175.1 L81.3,175.8 L83.1,176.5 L85,177.2 L86.8,177.8 L88.7,178.4 L90.5,179 L92.4,179.5 L94.3,180 L96.2,180.4 L98.1,180.8 L100,181.2 L101.9,181.5 L103.8,181.8 L105.7,182.1 L107.7,182.4 L109.6,182.6 L111.5,182.8 L113.5,183 L115.5,183.2 L117.4,183.3 L119.4,183.4 L121.4,183.5 L123.4,183.6 L125.3,183.7 L127.3,183.7 L129.3,183.7 L131.3,183.8 L133.3,183.8 L135.3,183.8 L137.3,183.7 L139.3,183.7 L141.3,183.7 L143.4,183.6 L145.4,183.6 L147.4,183.5 L149.4,183.5 L151.4,183.4 L153.4,183.3 L155.5,183.3 L157.5,183.2 L159.5,183.1 L161.5,183.1 L163.5,183 L165.6,183 L167.6,182.9 L169.6,182.9 L171.6,182.8 L173.6,182.8 L175.6,182.7 L177.6,182.7 L179.7,182.7 L181.7,182.6 L183.7,182.6 L185.7,182.6 L187.7,182.6 L189.7,182.6 L191.7,182.6 L193.7,182.6 L195.7,182.6 L197.8,182.6 L199.8,182.6 L201.8,182.6 L203.8,182.6 L205.8,182.6 L207.8,182.6 L209.8,182.7 L211.8,182.7 L213.8,182.7 L215.8,182.8 L217.8,182.8 L219.8,182.9 L221.8,182.9 L223.8,183 L225.8,183 L227.8,183.1 L229.8,183.2 L231.8,183.2 L233.8,183.3 L235.7,183.4 L237.7,183.5 L239.7,183.6 L241.7,183.7 L243.7,183.8 L245.7,183.9 L247.7,184 L249.7,184.1 L251.7,184.2 L253.6,184.4 L255.6,184.5 L257.6,184.6 L259.6,184.8 L261.6,184.9 L263.5,185.1 L265.5,185.2 L267.5,185.4 L269.5,185.6 L271.5,185.8 L273.4,185.9 L275.4,186.1 L277.4,186.3 L279.3,186.5 L281.3,186.7 L283.3,186.9 L285.3,187.1 L287.2,187.4 L289.2,187.6 L291.2,187.8 L293.1,188.1 L295.1,188.3 L297,188.5 L299,188.8 L301,189.1 L302.9,189.3 L304.9,189.6 L306.8,189.9 L308.8,190.2 L310.7,190.5 L312.7,190.8 L314.6,191.1 L316.6,191.4 L318.5,191.7 L320.5,192 L322.4,192.4 L324.4,192.7 L326.3,193 L328.3,193.4 L330.2,193.8 L332.2,194.1 L334.1,194.5 L336,194.9 L338,195.3 L339.9,195.7 L341.8,196.1 L343.8,196.5 L345.7,196.9 L347.6,197.3 L349.6,197.7 L351.5,198.2 L353.4,198.6 L355.3,199.1 L357.3,199.5 L359.2,200 L361.1,200.5 L363,200.9 L364.9,201.4 L366.9,201.9 L368.8,202.4 L370.7,202.9 L372.6,203.4 L374.5,204 L376.4,204.5 L378.3,205.1 L380.2,205.6 L382.1,206.2 L384.1,206.7 L386,207.3 L387.9,207.8 L389.8,208.4 L391.7,208.9 L393.6,209.4 L395.5,209.9 L397.4,210.4 L399.3,210.8 L401.3,211.2 L403.2,211.6 L405.1,211.9 L407.1,212.2 L409.1,212.4 L411,212.5 L413,212.6 L415,212.6 L417,212.6 L419,212.5 L421,212.2 L423,212 L425.1,211.6 L427.1,211.2 L429.2,210.8 L431.3,210.3 L433.3,209.7 L435.4,209.2 L437.5,208.6 L439.5,208 L441.6,207.4 L443.6,206.9 L445.6,206.3 L447.7,205.8 L449.7,205.3 L451.7,204.9 L453.7,204.5 L455.6,204.1 L457.6,203.9 L459.5,203.7 L461.4,203.6 L463.2,203.6 L465.1,203.7 L466.9,203.8 L468.7,204.1 L470.5,204.4 L472.2,204.8 L474,205.3 L475.7,205.8 L477.4,206.5 L479.1,207.1 L480.8,207.9 L482.4,208.7 L484.1,209.6 L485.7,210.5 L487.4,211.4 L489,212.4 L490.6,213.5 L492.2,214.6 L493.9,215.7 L495.5,216.9 L497.1,218.1 L498.7,219.3 L500.3,220.5 L501.9,221.8 L503.5,223.1 L505.1,224.4 L506.7,225.7 L508.3,227 L510,228.4 L511.6,229.7 L513.3,231 L514.9,232.4 L516.6,233.7 L518.3,235 L520,236.3 L521.7,237.6 L523.4,238.9 L525.2,240.2 L526.9,241.4 L528.7,242.6 L530.5,243.8 L532.3,245 L534.1,246.2 L535.9,247.3 L537.7,248.4 L539.5,249.4 L541.3,250.5 L543.2,251.4 L545,252.4 L546.9,253.3 L548.7,254.2 L550.6,255 L552.4,255.8 L554.3,256.5 L556.1,257.2 L558,257.8 L559.8,258.4 L561.7,258.9 L563.5,259.4 L565.4,259.8 L567.2,260.1 L569,260.4 L570.9,260.6 L572.7,260.8 L574.5,260.9 L576.3,260.9 L578.1,260.8 L579.9,260.7 L581.6,260.5 L583.4,260.2 L585.2,259.9 L586.9,259.4 L588.6,259 L590.4,258.4 L592.1,257.8 L593.8,257.2 L595.5,256.4 L597.2,255.7 L598.9,254.8 L600.6,254 L602.3,253.1 L604,252.1 L605.7,251.1 L607.3,250.1 L609,249 L610.7,247.9 L612.4,246.8 L614.1,245.6 L615.8,244.4 L617.4,243.2 L619.1,242 L620.8,240.7 L622.5,239.5 L624.2,238.2 L625.9,236.9 L627.7,235.6 L629.4,234.3 L631.1,233 L632.9,231.7 L634.6,230.5 L636.4,229.2 L638.1,227.9 L639.9,226.6 L641.7,225.4 L643.5,224.1 L645.3,222.9 L647.1,221.7 L649,220.5 L650.8,219.3 L652.6,218.2 L654.5,217 L656.3,215.9 L658.2,214.9 L660,213.8 L661.9,212.8 L663.8,211.8 L665.6,210.9 L667.5,209.9 L669.4,209.1 L671.2,208.2 L673.1,207.4 L675,206.6 L676.8,205.9 L678.7,205.2 L680.5,204.6 L682.4,204 L684.2,203.5 L686,203 L687.9,202.5 L689.7,202.1 L691.5,201.8 L693.3,201.5 L695.1,201.3 L696.9,201.1 L698.6,201 L700.4,201 L702.1,201 L703.9,201.1 L705.6,201.2 L707.3,201.5 L709,201.7 L710.6,202.1 L712.3,202.5 L713.9,203 L715.5,203.6 L717.1,204.3 L718.7,205 L720.3,205.8 L721.8,206.7 L723.3,207.7 L724.8,208.7 L726.3,209.8 L727.8,210.9 L729.2,212.1 L730.7,213.4 L732.1,214.7 L733.6,216 L735,217.4 L736.4,218.8 L737.8,220.3 L739.2,221.7 L740.6,223.2 L742,224.8 L743.4,226.3 L744.8,227.9 L746.3,229.5 L747.7,231 L749.1,232.6 L750.5,234.2 L751.9,235.8 L753.4,237.3 L754.8,238.9 L756.3,240.4 L757.7,242 L759.2,243.5 L760.7,245 L762.2,246.4 L763.8,247.8 L765.3,249.2 L766.9,250.5 L768.4,251.8 L770.1,253.1 L771.7,254.3 L773.3,255.4 L775,256.5 L776.7,257.5 L778.5,258.5 L780.2,259.3 L782,260.2 L783.8,260.9 L785.7,261.6 L787.6,262.2 L789.5,262.7 L791.4,263.2 L793.3,263.7 L795.3,264.1 L797.3,264.4 L799.2,264.8 L801.3,265.1 L803.3,265.3 L805.3,265.5 L807.3,265.7 L809.4,265.9 L811.4,266.1 L813.5,266.2 L815.5,266.4 L817.6,266.5 L819.7,266.7 L821.7,266.8 L823.8,266.9 L825.8,267.1 L827.9,267.3 L829.9,267.5 L831.9,267.7 L833.9,267.9 L835.9,268.2 L837.9,268.5 L839.8,268.8 L841.8,269.2 L843.7,269.6 L845.6,270.1 L847.5,270.6 L849.4,271.1 L851.2,271.7 L853.1,272.3 L854.9,272.9 L856.7,273.6 L858.5,274.3 L860.3,275.1 L862,275.8 L863.8,276.6 L865.5,277.5 L867.3,278.3 L869,279.2 L870.7,280.1 L872.4,281 L874.1,282 L875.8,283 L877.5,283.9 L879.2,285 L880.8,286 L882.5,287 L884.2,288.1 L885.8,289.1 L887.5,290.2 L889.1,291.3 L890.8,292.4 L892.4,293.5 L894.1,294.6 L895.7,295.7 L897.4,296.8 L899.1,298 L900.7,299.1 L902.4,300.2 L904,301.3 L905.7,302.5 L907.4,303.6 L909,304.7 L910.7,305.8 L912.4,307 L914.1,308.1 L915.8,309.2 L917.5,310.3 L919.2,311.4 L920.8,312.5 L922.5,313.6 L924.3,314.7 L926,315.9 L927.7,316.9 L929.4,318 L931.1,319.1 L932.8,320.2 L934.5,321.3 L936.3,322.4 L938,323.5 L939.7,324.5 L941.5,325.6 L943.2,326.6 L945,327.7 L946.7,328.7 L948.5,329.8 L950.2,330.8 L952,331.8 L953.7,332.8 L955.5,333.8 L957.3,334.8 L959.1,335.8 L960.8,336.8 L962.6,337.8 L964.4,338.7 L966.2,339.7 L968,340.6 L969.8,341.6 L971.6,342.5 L973.4,343.4 L975.2,344.3 L977,345.2 L978.8,346.1 L980.6,346.9 L982.5,347.8 L984.3,348.6 L986.1,349.5 L988,350.3 L989.8,351.1 L991.6,351.9 L993.5,352.7 L995.3,353.5 L997.2,354.2 L999.1,355 L1000.9,355.7 L1002.8,356.4 L1004.7,357.1 L1006.5,357.8 L1008.4,358.5 L1010.3,359.1 L1012.2,359.7 L1014.1,360.4 L1016,361 L1017.9,361.6 L1019.8,362.1 L1021.7,362.7 L1023.6,363.2 L1025.5,363.7 L1027.4,364.2 L1029.4,364.7 L1031.3,365.2 L1033.2,365.6 L1035.2,366.1 L1037.1,366.5 L1039,366.9 L1041,367.2 L1042.9,367.6 L1044.9,367.9 L1046.9,368.2 L1048.8,368.5 L1050.8,368.8 L1052.8,369 L1054.8,369.2 L1056.8,369.4 L1058.7,369.6 L1060.7,369.8 L1062.7,369.9 L1064.7,370 L1066.7,370.1 L1068.7,370.2 L1070.7,370.3 L1072.7,370.3 L1074.7,370.3 L1076.7,370.3 L1078.7,370.2 L1080.7,370.2 L1082.7,370.1 L1084.7,370 L1086.6,369.9 L1088.6,369.7 L1090.6,369.5 L1092.6,369.3 L1094.6,369.1 L1096.5,368.8 L1098.5,368.6 L1100.4,368.3 L1102.4,368 L1104.3,367.6 L1106.3,367.2 L1108.2,366.9 L1110.1,366.4 L1112,366 L1113.9,365.5 L1115.8,365 L1117.7,364.5 L1119.6,364 L1121.5,363.4 L1123.3,362.8 L1125.2,362.2 L1127,361.6 L1128.9,360.9 L1130.7,360.2 L1132.5,359.5 L1134.3,358.7 L1136,358 L1137.8,357.2 L1139.5,356.4 L1141.3,355.5 L1143,354.6 L1144.7,353.7 L1146.4,352.8 L1148.1,351.8 L1149.7,350.9 L1151.4,349.9 L1153,348.8 L1154.6,347.8 L1156.2,346.7 L1157.7,345.5 L1159.3,344.4 L1160.8,343.2 L1162.3,342 L1163.8,340.8 L1165.3,339.5 L1166.7,338.2 L1168.2,336.9 L1169.6,335.6 L1171,334.2 L1172.3,332.8 L1173.7,331.4 L1175,329.9 L1176.3,328.4 L1177.5,326.9 L1178.8,325.4 L1180,323.8 L1181.2,322.2 L1182.4,320.6 L1183.5,318.9 L1184.6,317.2 L1185.7,315.5 L1186.8,313.7 L1187.8,312 L1188.8,310.1 L1189.8,308.3 L1190.8,306.4 L1191.7,304.5 L1192.6,302.6 L1193.4,300.6 L1194.3,298.6 L1195.1,296.6 L1195.8,294.5 L1196.6,292.4 L1197.3,290.3 L1197.9,288.2 L1198.6,286 L1199.2,283.8 L1199.7,281.5 L1200,280.5" fill="none" stroke="#86e4ef" stroke-width="1.25"/>
<path d="M0,315 C16.7,318.2 33.3,321.5 50,325 C66.7,328.5 83.3,331.7 100,336 C116.7,340.3 133.3,345.8 150,351 C166.7,356.2 183.3,362.2 200,367.5 C216.7,372.8 233.3,376.5 250,382.5 C257.3,385.1 264.7,390.8 272,391 C275.9,391.1 279.9,391.2 283.8,391.2 C292.3,391.2 294.2,348.6 302.7,348.6 C311.2,348.6 313,348.6 321.5,348.8 C330,349 331.9,349.4 340.4,354.4 C348.9,359.5 350.8,387 359.3,387 C367.7,387 369.6,387 378.1,386.7 C386.6,386.5 388.5,379.3 397,367 C405.5,354.6 407.4,342 415.9,331.8 C424.3,321.7 426.2,320.5 434.7,320.5 C443.2,320.5 445.1,334.5 453.6,337.2 C462.1,339.9 464,337.5 472.4,340.2 C480.9,343 482.8,353.7 491.3,356.8 C499.8,359.8 501.7,357.1 510.2,360.1 C518.7,363.2 520.6,374.1 529,382.3 C537.5,390.5 539.4,396.7 547.9,396.7 C556.4,396.7 558.3,391.2 566.8,391.2 C575.3,391.2 577.1,393.9 585.6,395.7 C594.1,397.6 596,399.4 604.5,399.4 C613,399.4 614.9,399 623.4,395.3 C631.9,391.6 633.7,350 642.2,348.2 C650.7,346.4 652.6,346.4 661.1,346.2 C669.6,346 671.5,346 680,346 C688.5,346 690.3,346.4 698.8,349.7 C707.3,353.1 709.2,360.8 717.7,367.5 C726.2,374.2 728.1,370.8 736.6,379.5 C745,388.2 746.9,406 755.4,406 C763.9,406 765.8,391 774.3,391 C782.8,391 784.7,410.2 793.2,410.2 C801.6,410.2 803.5,393.1 812,393.1 C820.5,393.1 822.4,400 830.9,400 C839.4,400 841.3,390 849.7,390 C858.2,390 860.1,397.5 868.6,403.5 C877.1,409.5 879,410.7 887.5,416.8 C896,423 897.9,424.8 906.3,430.6 C914.8,436.5 916.7,441.3 925.2,443 C933.7,444.6 935.6,443.2 944.1,444.8 C952.6,446.4 954.4,448.3 962.9,453.6 C971.4,458.8 973.3,463.1 981.8,468.2 C996.5,477 1011.3,477 1026,481.4 C1041.2,485.9 1056.5,491.1 1071.7,495 C1083.8,498.1 1095.9,500.4 1108,503.3 C1120.3,506.2 1132.7,509.6 1145,512.5 C1163.3,516.8 1181.7,520.6 1200,524.4 L1200,900 L0,900 Z" fill="#a37853"/>
<path d="M0,402.5 C20,403.6 40,404.6 60,406 C80,407.4 100,409.5 120,410.8 C134.3,411.7 148.7,411.5 163,413 C172.7,414 182.3,414.4 192,417.3 C196.9,418.7 201.7,421.2 206.6,423 C216.2,426.6 225.9,429.6 235.5,433.2 C245.1,436.8 254.8,441.2 264.4,444.8 C268.3,446.2 272.1,447.9 276,449 C278.6,449.7 281.2,450.1 283.8,450.8 C292.3,453.1 294.2,457.7 302.7,457.7 C311.2,457.7 313,438.7 321.5,438.7 C330,438.7 331.9,464.1 340.4,474.2 C348.9,484.2 350.8,485.3 359.3,485.3 C367.7,485.3 369.6,483.3 378.1,483.3 C386.6,483.3 388.5,498.4 397,498.4 C405.5,498.4 407.4,480 415.9,480 C424.3,480 426.2,489.6 434.7,489.6 C443.2,489.6 445.1,453.1 453.6,434.5 C462.1,415.9 464,410.6 472.4,406.8 C480.9,402.9 482.8,402.5 491.3,402.5 C499.8,402.5 501.7,415.7 510.2,424.8 C518.7,434 520.6,434.4 529,443.2 C537.5,451.9 539.4,454.1 547.9,463.7 C556.4,473.2 558.3,485.7 566.8,485.7 C575.3,485.7 577.1,464.5 585.6,464.5 C594.1,464.5 596,468.9 604.5,471.3 C613,473.6 614.9,473.4 623.4,474.9 C631.9,476.4 633.7,475.2 642.2,478.1 C650.7,481 652.6,496.6 661.1,496.6 C669.6,496.6 671.5,479.4 680,478.1 C688.5,476.8 690.3,476.6 698.8,476.6 C707.3,476.6 709.2,494.1 717.7,503.1 C726.2,512.2 728.1,510.5 736.6,517 C745,523.5 746.9,532 755.4,532 C763.9,532 765.8,525.6 774.3,525.6 C782.8,525.6 784.7,525.6 793.2,525.6 C801.6,525.6 803.5,526.3 812,527.8 C820.5,529.3 822.4,532.1 830.9,532.1 C839.4,532.1 841.3,529.8 849.7,529.8 C858.2,529.8 860.1,536.4 868.6,540.4 C877.1,544.4 879,547.6 887.5,547.6 C896,547.6 897.9,528.7 906.3,528.7 C914.8,528.7 916.7,533.7 925.2,533.7 C933.7,533.7 935.6,516.2 944.1,511.6 C952.6,507 954.4,506.5 962.9,506.5 C971.4,506.5 973.3,524.9 981.8,536 C990.4,547.2 998.9,553.1 1007.5,560.3 C1016.7,568 1025.8,574.9 1035,580.5 C1047.2,588 1059.5,592.4 1071.7,597 C1083.9,601.6 1096.1,604.6 1108.3,608 C1120.5,611.4 1132.8,614.4 1145,617.2 C1163.3,621.4 1181.7,624.7 1200,628 L1200,900 L0,900 Z" fill="#b88f6a"/>
<path d="M0,595 C16.7,596.5 33.3,598.1 50,601 C66.7,603.9 83.3,608.7 100,612.5 C116.7,616.3 133.3,620.8 150,623.8 C166.7,626.7 183.3,628.3 200,630 C216.7,631.7 233.3,633.4 250,633.8 C257.3,633.9 264.7,634 272,634 C275.9,634 279.9,632.8 283.8,632.8 C292.3,632.8 294.2,634.9 302.7,634.9 C311.2,634.9 313,621.6 321.5,613.7 C330,605.9 331.9,606.4 340.4,600.1 C348.9,593.7 350.8,585.4 359.3,585.4 C367.7,585.4 369.6,620.8 378.1,620.8 C386.6,620.8 388.5,620.8 397,620.7 C405.5,620.7 407.4,605.1 415.9,605.1 C424.3,605.1 426.2,625.9 434.7,636.3 C443.2,646.7 445.1,651.3 453.6,651.3 C462.1,651.3 464,622.1 472.4,616.3 C480.9,610.4 482.8,610.8 491.3,609.8 C499.8,608.8 501.7,609.7 510.2,608.6 C518.7,607.6 520.6,600.3 529,600.3 C537.5,600.3 539.4,633.5 547.9,633.5 C556.4,633.5 558.3,627.7 566.8,623 C575.3,618.3 577.1,612.8 585.6,612.8 C594.1,612.8 596,621 604.5,621 C613,621 614.9,618.3 623.4,618.3 C631.9,618.3 633.7,620.9 642.2,627.9 C650.7,634.9 652.6,642.6 661.1,649.4 C669.6,656.2 671.5,657.9 680,657.9 C688.5,657.9 690.3,645.6 698.8,639.8 C707.3,633.9 709.2,635 717.7,631.9 C726.2,628.7 728.1,625.7 736.6,625.7 C745,625.7 746.9,647.9 755.4,647.9 C763.9,647.9 765.8,637 774.3,637 C782.8,637 784.7,648.8 793.2,654.5 C801.6,660.2 803.5,662.2 812,662.2 C820.5,662.2 822.4,643.4 830.9,643.4 C839.4,643.4 841.3,660.8 849.7,671.5 C858.2,682.2 860.1,691.1 868.6,691.1 C877.1,691.1 879,683.5 887.5,683.5 C896,683.5 897.9,697.7 906.3,700.4 C914.8,703 916.7,702.4 925.2,703.3 C933.7,704.2 935.6,703.4 944.1,704.4 C952.6,705.3 954.4,707.9 962.9,710 C971.4,712.2 973.3,712.3 981.8,713.9 C989.2,715.3 996.6,716.2 1004,717.5 C1019.3,720.2 1034.7,723.6 1050,726.7 C1066.7,730 1083.3,733.4 1100,736.7 C1116.7,740.1 1133.3,743.4 1150,746.8 C1166.7,750.1 1183.3,753.5 1200,756.8 L1200,900 L0,900 Z" fill="#c4b18f"/>
<ellipse cx="10.8" cy="815.8" rx="1.6" ry="2.4" fill="#9a7f52"/>
<ellipse cx="6.7" cy="835" rx="1.5" ry="1.8" fill="#9a7f52"/>
<ellipse cx="19.2" cy="846.7" rx="1.8" ry="1.7" fill="#9a7f52"/>
<ellipse cx="26.7" cy="837.5" rx="1.6" ry="1.9" fill="#9a7f52"/>
<ellipse cx="27.5" cy="818.3" rx="1.2" ry="1.3" fill="#9a7f52"/>
<ellipse cx="25" cy="795.8" rx="1" ry="1.6" fill="#9a7f52"/>
<ellipse cx="39.2" cy="788.3" rx="2.2" ry="1" fill="#9a7f52" transform="rotate(-35 39.2 788.3)"/>
<ellipse cx="39.2" cy="800.8" rx="1.2" ry="0.9" fill="#9a7f52"/>
<ellipse cx="50.8" cy="800" rx="1.1" ry="0.8" fill="#9a7f52"/>
<ellipse cx="45" cy="814" rx="1" ry="1" fill="#9a7f52"/>
<ellipse cx="68.3" cy="782.5" rx="1.3" ry="0.9" fill="#9a7f52"/>
<ellipse cx="68.3" cy="759" rx="0.8" ry="0.7" fill="#9a7f52"/>
<ellipse cx="69" cy="766.7" rx="1" ry="0.8" fill="#9a7f52"/>
<ellipse cx="72.5" cy="769" rx="0.8" ry="0.8" fill="#9a7f52"/>
<ellipse cx="80" cy="768" rx="0.7" ry="0.7" fill="#9a7f52"/>
<ellipse cx="83.3" cy="773" rx="0.8" ry="0.8" fill="#9a7f52"/>
<ellipse cx="85" cy="810" rx="1.1" ry="0.8" fill="#9a7f52"/>
<ellipse cx="90" cy="784" rx="0.8" ry="0.7" fill="#9a7f52"/>
<ellipse cx="89" cy="769" rx="0.8" ry="0.8" fill="#9a7f52"/>
<ellipse cx="94" cy="761" rx="0.7" ry="0.7" fill="#9a7f52"/>
<ellipse cx="99" cy="776.7" rx="0.7" ry="0.7" fill="#9a7f52"/>
<ellipse cx="105" cy="743" rx="0.6" ry="0.6" fill="#9a7f52"/>
<ellipse cx="115" cy="793" rx="0.6" ry="0.6" fill="#9a7f52"/>
<ellipse cx="0.5" cy="849" rx="1.2" ry="1.2" fill="#9a7f52"/>
<path d="M72.5,768.3 L87.5,780" stroke="#9a7f52" stroke-width="0.5"/>
<ellipse cx="642.5" cy="715.8" rx="3" ry="2.6" fill="#9a7f52"/>
<ellipse cx="634" cy="728.7" rx="2" ry="2" fill="#9a7f52"/>
<ellipse cx="632.5" cy="715" rx="1.5" ry="1.3" fill="#9a7f52"/>
<ellipse cx="620.5" cy="726.3" rx="2.2" ry="2.2" fill="#9a7f52"/>
<ellipse cx="615.3" cy="713.8" rx="2" ry="2" fill="#9a7f52"/>
<ellipse cx="606" cy="714.7" rx="1.8" ry="1.6" fill="#9a7f52"/>
<ellipse cx="600.5" cy="736.3" rx="2.4" ry="2.6" fill="#9a7f52"/>
<ellipse cx="593.7" cy="724.3" rx="1.5" ry="1.5" fill="#9a7f52"/>
<ellipse cx="578.7" cy="717.7" rx="1" ry="1" fill="#9a7f52"/>
<ellipse cx="577.5" cy="729.7" rx="1" ry="0.9" fill="#9a7f52"/>
<ellipse cx="585" cy="738" rx="1.2" ry="1.2" fill="#9a7f52"/>
<ellipse cx="574.7" cy="740" rx="1.5" ry="1" fill="#9a7f52" transform="rotate(-20 574.7 740)"/>
<ellipse cx="621.3" cy="735.8" rx="1.4" ry="1.3" fill="#9a7f52"/>
<ellipse cx="567.5" cy="728.7" rx="0.8" ry="0.8" fill="#9a7f52"/>
<ellipse cx="550.5" cy="738.7" rx="0.9" ry="0.7" fill="#9a7f52"/>
<ellipse cx="496.7" cy="748.3" rx="1.3" ry="0.8" fill="#9a7f52"/>
<ellipse cx="490.8" cy="751.3" rx="0.7" ry="0.7" fill="#9a7f52"/>
<ellipse cx="502.5" cy="752.5" rx="0.8" ry="0.7" fill="#9a7f52"/>
<ellipse cx="521.7" cy="722.5" rx="0.9" ry="0.8" fill="#9a7f52"/>
<ellipse cx="530.8" cy="720.5" rx="0.7" ry="0.7" fill="#9a7f52"/>
<ellipse cx="502.5" cy="718.3" rx="0.8" ry="0.7" fill="#9a7f52"/>
<ellipse cx="528.3" cy="749.7" rx="0.8" ry="0.8" fill="#9a7f52"/>
<ellipse cx="548.3" cy="749" rx="0.8" ry="0.8" fill="#9a7f52"/>
<ellipse cx="551.3" cy="752" rx="0.7" ry="0.7" fill="#9a7f52"/>
<ellipse cx="552.5" cy="758.3" rx="0.7" ry="0.7" fill="#9a7f52"/>
<ellipse cx="521.7" cy="752.5" rx="0.7" ry="0.7" fill="#9a7f52"/>
<ellipse cx="512.5" cy="764" rx="0.6" ry="0.6" fill="#9a7f52"/>
<ellipse cx="523.7" cy="740" rx="0.7" ry="0.7" fill="#9a7f52"/>
<ellipse cx="565.8" cy="740.8" rx="0.7" ry="0.7" fill="#9a7f52"/>
<ellipse cx="558.3" cy="730" rx="0.6" ry="0.6" fill="#9a7f52"/>
<ellipse cx="613.3" cy="723.3" rx="0.6" ry="0.6" fill="#9a7f52"/>
<ellipse cx="608" cy="732.5" rx="0.7" ry="0.7" fill="#9a7f52"/>
<ellipse cx="612.5" cy="734" rx="0.6" ry="0.6" fill="#9a7f52"/>
<ellipse cx="41.5" cy="363.5" rx="1.4" ry="2.8" fill="#8a5e3b"/>
<ellipse cx="46" cy="367.5" rx="0.9" ry="1.3" fill="#8a5e3b"/>
<ellipse cx="49" cy="354" rx="1.1" ry="1.5" fill="#8a5e3b"/>
<ellipse cx="57" cy="352.5" rx="1" ry="1.1" fill="#8a5e3b"/>
<ellipse cx="54.5" cy="362" rx="1.1" ry="1.5" fill="#8a5e3b"/>
<ellipse cx="66.5" cy="360.5" rx="1.6" ry="2" fill="#8a5e3b"/>
<ellipse cx="74.5" cy="365" rx="0.8" ry="0.9" fill="#8a5e3b"/>
<ellipse cx="79.5" cy="367.5" rx="0.9" ry="0.7" fill="#8a5e3b"/>
<ellipse cx="54" cy="376" rx="1.3" ry="1.8" fill="#8a5e3b"/>
<ellipse cx="58.5" cy="379" rx="1.2" ry="1.3" fill="#8a5e3b"/>
<ellipse cx="66.5" cy="374.5" rx="1" ry="1" fill="#8a5e3b"/>
<ellipse cx="76" cy="376.5" rx="1" ry="0.9" fill="#8a5e3b"/>
<ellipse cx="80" cy="381" rx="0.8" ry="0.8" fill="#8a5e3b"/>
<ellipse cx="72" cy="387.5" rx="1" ry="1" fill="#8a5e3b"/>
<ellipse cx="84" cy="370" rx="0.6" ry="0.6" fill="#8a5e3b"/>
<ellipse cx="94" cy="365" rx="0.6" ry="0.6" fill="#8a5e3b"/>
<ellipse cx="94.5" cy="368.5" rx="0.5" ry="0.5" fill="#8a5e3b"/>
<ellipse cx="104" cy="376.5" rx="0.5" ry="0.5" fill="#8a5e3b"/>
<ellipse cx="90.5" cy="378.5" rx="0.6" ry="0.6" fill="#8a5e3b"/>
<ellipse cx="85" cy="383" rx="0.6" ry="0.6" fill="#8a5e3b"/>
<ellipse cx="95" cy="358.5" rx="0.5" ry="0.5" fill="#8a5e3b"/>
<ellipse cx="140.2" cy="517.7" rx="2.8" ry="2.6" fill="#946840"/>
<ellipse cx="147.4" cy="513.4" rx="1.4" ry="1.2" fill="#946840"/>
<ellipse cx="149.5" cy="514" rx="1" ry="0.8" fill="#946840"/>
<ellipse cx="141" cy="501.8" rx="2" ry="2" fill="#946840"/>
<ellipse cx="154.4" cy="497.5" rx="2.2" ry="2.1" fill="#946840"/>
<ellipse cx="148.9" cy="489.5" rx="1.4" ry="1.4" fill="#946840"/>
<ellipse cx="167.7" cy="479.4" rx="1.8" ry="2.4" fill="#946840" transform="rotate(20 167.7 479.4)"/>
<ellipse cx="164.8" cy="506.1" rx="1.8" ry="1.1" fill="#946840" transform="rotate(30 164.8 506.1)"/>
<ellipse cx="172.4" cy="500.4" rx="1.7" ry="1.7" fill="#946840"/>
<ellipse cx="178.5" cy="486.6" rx="1.3" ry="1.3" fill="#946840"/>
<ellipse cx="195" cy="485.5" rx="1.2" ry="1.2" fill="#946840"/>
<ellipse cx="180" cy="470.5" rx="1.2" ry="1.2" fill="#946840"/>
<ellipse cx="187.9" cy="464.3" rx="1.8" ry="1" fill="#946840" transform="rotate(-50 187.9 464.3)"/>
<ellipse cx="190.8" cy="474.4" rx="1.2" ry="1.1" fill="#946840"/>
<ellipse cx="199.4" cy="470.5" rx="1.2" ry="1.1" fill="#946840"/>
<ellipse cx="206.6" cy="465" rx="0.8" ry="0.8" fill="#946840"/>
<ellipse cx="195" cy="459.2" rx="0.7" ry="0.7" fill="#946840"/>
<ellipse cx="209.5" cy="454.6" rx="0.7" ry="0.7" fill="#946840"/>
<ellipse cx="215" cy="464.7" rx="0.6" ry="0.6" fill="#946840"/>
<ellipse cx="225.4" cy="478" rx="0.8" ry="0.8" fill="#946840"/>
<ellipse cx="236.2" cy="460.6" rx="1" ry="0.9" fill="#946840"/>
<ellipse cx="229.5" cy="454.9" rx="0.7" ry="0.7" fill="#946840"/>
<ellipse cx="242.7" cy="454.9" rx="0.8" ry="0.8" fill="#946840"/>
<ellipse cx="250" cy="457.8" rx="0.6" ry="0.6" fill="#946840"/>
<ellipse cx="198.7" cy="437.3" rx="0.8" ry="0.8" fill="#946840"/>
<ellipse cx="203" cy="442.2" rx="0.8" ry="0.8" fill="#946840"/>
<ellipse cx="206.6" cy="443.3" rx="0.7" ry="0.7" fill="#946840"/>
<ellipse cx="210.3" cy="431" rx="0.6" ry="0.6" fill="#946840"/>
<ellipse cx="219.6" cy="434.7" rx="0.7" ry="0.7" fill="#946840"/>
<ellipse cx="224.3" cy="433.6" rx="0.7" ry="0.7" fill="#946840"/>
<ellipse cx="233.4" cy="439.7" rx="0.8" ry="0.8" fill="#946840"/>
<ellipse cx="234" cy="446.9" rx="0.7" ry="0.7" fill="#946840"/>
<ellipse cx="239.1" cy="446.9" rx="0.6" ry="0.6" fill="#946840"/>
<ellipse cx="251.1" cy="446.9" rx="0.6" ry="0.6" fill="#946840"/>
<ellipse cx="262.2" cy="449.1" rx="1" ry="0.8" fill="#946840"/>
<ellipse cx="244.2" cy="420.2" rx="0.8" ry="0.8" fill="#8a5e3b"/>
<ellipse cx="247.1" cy="418.8" rx="0.8" ry="0.8" fill="#8a5e3b"/>
<ellipse cx="252.9" cy="419.5" rx="1.2" ry="1" fill="#8a5e3b"/>
<ellipse cx="257.2" cy="414.4" rx="0.7" ry="0.7" fill="#8a5e3b"/>
<ellipse cx="273.1" cy="410.8" rx="0.6" ry="0.6" fill="#8a5e3b"/>
<ellipse cx="229.7" cy="428.2" rx="0.7" ry="0.7" fill="#8a5e3b"/>
<ellipse cx="254.3" cy="436.8" rx="0.6" ry="0.6" fill="#8a5e3b"/>
<ellipse cx="1170" cy="587.8" rx="1.4" ry="2.4" fill="#8a5e3b" transform="rotate(-20 1170 587.8)"/>
<ellipse cx="1160" cy="592.9" rx="1.3" ry="1.3" fill="#8a5e3b"/>
<ellipse cx="1153.3" cy="591.1" rx="1" ry="1" fill="#8a5e3b"/>
<ellipse cx="1158.9" cy="583.3" rx="1.3" ry="1.3" fill="#8a5e3b"/>
<ellipse cx="1148.9" cy="580" rx="1.5" ry="1.5" fill="#8a5e3b"/>
<ellipse cx="1167.8" cy="582.2" rx="1" ry="1" fill="#8a5e3b"/>
<ellipse cx="1164.4" cy="573.3" rx="1" ry="1" fill="#8a5e3b"/>
<ellipse cx="1162.2" cy="568.9" rx="1" ry="1" fill="#8a5e3b"/>
<ellipse cx="1155.1" cy="568.9" rx="0.8" ry="0.8" fill="#8a5e3b"/>
<ellipse cx="1144.4" cy="573.3" rx="0.8" ry="0.8" fill="#8a5e3b"/>
<ellipse cx="1141.1" cy="568.9" rx="0.8" ry="0.8" fill="#8a5e3b"/>
<ellipse cx="1147.8" cy="563.3" rx="0.8" ry="0.8" fill="#8a5e3b"/>
<ellipse cx="1137.8" cy="564.4" rx="0.7" ry="0.7" fill="#8a5e3b"/>
<ellipse cx="1155.6" cy="556.2" rx="0.8" ry="0.8" fill="#8a5e3b"/>
<ellipse cx="1144.4" cy="555.6" rx="0.7" ry="0.7" fill="#8a5e3b"/>
<ellipse cx="1128.9" cy="562.2" rx="0.6" ry="0.6" fill="#8a5e3b"/>
<ellipse cx="1128.9" cy="555.6" rx="0.6" ry="0.6" fill="#8a5e3b"/>
<ellipse cx="1125.6" cy="552.2" rx="0.6" ry="0.6" fill="#8a5e3b"/>
<ellipse cx="1120" cy="533.3" rx="0.6" ry="0.6" fill="#8a5e3b"/>
<ellipse cx="1115.6" cy="522.2" rx="0.5" ry="0.5" fill="#8a5e3b"/>
<ellipse cx="1140" cy="517.8" rx="0.5" ry="0.5" fill="#8a5e3b"/>
<ellipse cx="1128.9" cy="537.8" rx="0.5" ry="0.5" fill="#8a5e3b"/>
<ellipse cx="1135.6" cy="541.1" rx="0.5" ry="0.5" fill="#8a5e3b"/>
<ellipse cx="1144.4" cy="533.3" rx="0.5" ry="0.5" fill="#8a5e3b"/>
<ellipse cx="1154.4" cy="535.6" rx="0.5" ry="0.5" fill="#8a5e3b"/>
<ellipse cx="1125.6" cy="568.9" rx="0.5" ry="0.5" fill="#8a5e3b"/>
<ellipse cx="1026" cy="592.2" rx="1.8" ry="1.8" fill="#946840"/>
<ellipse cx="1012.2" cy="593.3" rx="1.2" ry="0.6" fill="#946840"/>
<ellipse cx="1011" cy="598.9" rx="1" ry="1.3" fill="#946840"/>
<ellipse cx="1027.8" cy="607.8" rx="2" ry="2" fill="#946840"/>
<ellipse cx="1036.7" cy="603.3" rx="1.3" ry="1.3" fill="#946840"/>
<ellipse cx="1015.6" cy="617.8" rx="1.8" ry="2" fill="#946840" transform="rotate(30 1015.6 617.8)"/>
<ellipse cx="1021.1" cy="627.8" rx="1.8" ry="1.8" fill="#946840"/>
<ellipse cx="1044.4" cy="623.3" rx="2" ry="1.8" fill="#946840"/>
<ellipse cx="1036.7" cy="635.6" rx="1.5" ry="1.5" fill="#946840"/>
<ellipse cx="1053.3" cy="635.6" rx="1" ry="1" fill="#946840"/>
<ellipse cx="1026.7" cy="617.8" rx="0.6" ry="0.6" fill="#946840"/>
<ellipse cx="1037.8" cy="617.8" rx="0.7" ry="0.7" fill="#946840"/>
<ellipse cx="1050" cy="605.6" rx="0.6" ry="0.6" fill="#946840"/>
<ellipse cx="1092.2" cy="634.4" rx="0.8" ry="0.8" fill="#946840"/>
<ellipse cx="1040" cy="655" rx="1.5" ry="1.3" fill="#946840"/>
<ellipse cx="1051" cy="648" rx="1.2" ry="1.2" fill="#946840"/>
<ellipse cx="1060" cy="655" rx="1.2" ry="1.1" fill="#946840"/>
<ellipse cx="1063" cy="640" rx="1" ry="1" fill="#946840"/>
<ellipse cx="1069" cy="644" rx="1" ry="1" fill="#946840"/>
<ellipse cx="1082" cy="655" rx="1.1" ry="0.9" fill="#946840"/>
<ellipse cx="1075" cy="666" rx="0.8" ry="0.8" fill="#946840"/>
<ellipse cx="1088" cy="642" rx="0.6" ry="0.6" fill="#946840"/>
<ellipse cx="1110" cy="664" rx="1" ry="1" fill="#946840"/>
<ellipse cx="1115" cy="672" rx="0.8" ry="0.8" fill="#946840"/>
<ellipse cx="1108" cy="657" rx="0.8" ry="0.8" fill="#946840"/>
<ellipse cx="1101" cy="672" rx="0.7" ry="0.7" fill="#946840"/>
<ellipse cx="1090" cy="675" rx="0.7" ry="0.7" fill="#946840"/>
<ellipse cx="1085" cy="684" rx="1.2" ry="0.7" fill="#946840" transform="rotate(-20 1085 684)"/>
<ellipse cx="1068" cy="685" rx="0.6" ry="0.6" fill="#946840"/>
<ellipse cx="1075" cy="688" rx="0.6" ry="0.6" fill="#946840"/>
<ellipse cx="1091" cy="687" rx="0.6" ry="0.6" fill="#946840"/>
<ellipse cx="1113" cy="693" rx="0.7" ry="0.7" fill="#946840"/>
<ellipse cx="1120" cy="694" rx="0.7" ry="0.7" fill="#946840"/>
<ellipse cx="1127" cy="696" rx="1" ry="1" fill="#946840"/>
<ellipse cx="1125" cy="693" rx="0.7" ry="0.7" fill="#946840"/>
<ellipse cx="1133" cy="690" rx="0.7" ry="0.7" fill="#946840"/>
<ellipse cx="1155" cy="676" rx="0.6" ry="1.2" fill="#946840" transform="rotate(20 1155 676)"/>
<ellipse cx="1152" cy="682" rx="0.6" ry="0.6" fill="#946840"/>
<defs><clipPath id="cC2T"><path d="M-5,140 L0,144 L1.6,145 L3.2,146 L4.8,147.1 L6.4,148.1 L8.1,149.2 L9.7,150.2 L11.4,151.3 L13,152.4 L14.7,153.5 L16.4,154.5 L18.1,155.6 L19.8,156.7 L21.5,157.8 L23.2,158.9 L24.9,159.9 L26.6,161 L28.4,162.1 L30.1,163.1 L31.9,164.2 L33.6,165.2 L35.4,166.3 L37.2,167.3 L38.9,168.4 L40.7,169.4 L42.5,170.4 L44.3,171.4 L46.1,172.3 L47.9,173.3 L49.8,174.2 L51.6,175.2 L53.4,176.1 L55.2,177 L57.1,177.8 L58.9,178.7 L60.8,179.5 L62.6,180.3 L64.5,181.1 L66.4,181.9 L68.3,182.6 L70.1,183.3 L72,184 L73.9,184.7 L75.8,185.3 L77.7,185.9 L79.6,186.4 L81.5,187 L83.4,187.5 L85.3,187.9 L87.2,188.3 L89.1,188.8 L91.1,189.1 L93,189.5 L94.9,189.8 L96.9,190.1 L98.8,190.4 L100.7,190.6 L102.7,190.8 L104.6,191 L106.6,191.2 L108.5,191.3 L110.5,191.4 L112.4,191.5 L114.4,191.6 L116.4,191.7 L118.3,191.7 L120.3,191.8 L122.3,191.8 L124.2,191.8 L126.2,191.7 L128.2,191.7 L130.2,191.7 L132.2,191.6 L134.2,191.5 L136.1,191.4 L138.1,191.3 L140.1,191.2 L142.1,191.1 L144.1,191 L146.1,190.8 L148.1,190.7 L150.1,190.5 L152.1,190.4 L154.1,190.2 L156.1,190 L158.1,189.9 L160.1,189.7 L162.1,189.5 L164.2,189.3 L166.2,189.1 L168.2,189 L170.2,188.8 L172.2,188.6 L174.2,188.4 L176.2,188.2 L178.2,188 L180.3,187.8 L182.3,187.7 L184.3,187.5 L186.3,187.3 L188.3,187.1 L190.3,186.9 L192.4,186.8 L194.4,186.6 L196.4,186.4 L198.4,186.3 L200.4,186.1 L202.4,186 L204.5,185.8 L206.5,185.7 L208.5,185.5 L210.5,185.4 L212.5,185.3 L214.5,185.1 L216.5,185 L218.6,184.9 L220.6,184.8 L222.6,184.7 L224.6,184.7 L226.6,184.6 L228.6,184.5 L230.6,184.5 L232.6,184.4 L234.6,184.4 L236.6,184.3 L238.6,184.3 L240.6,184.3 L242.6,184.3 L244.6,184.4 L246.6,184.4 L248.5,184.4 L250.5,184.5 L252.5,184.6 L254.5,184.6 L256.5,184.7 L258.4,184.8 L260.4,185 L262.4,185.1 L264.4,185.3 L266.3,185.4 L268.3,185.6 L270.2,185.8 L272.2,186 L274.1,186.3 L276.1,186.5 L278,186.8 L280,187.1 L281.9,187.4 L283.9,187.7 L285.8,188 L287.7,188.4 L289.6,188.8 L291.6,189.2 L293.5,189.6 L295.4,190.1 L297.3,190.5 L299.2,191 L301.1,191.5 L303,192 L304.9,192.6 L306.8,193.2 L308.7,193.8 L310.5,194.4 L312.4,195 L314.3,195.7 L316.2,196.4 L318,197.1 L319.9,197.9 L321.7,198.6 L323.6,199.4 L325.4,200.2 L327.2,201.1 L329.1,202 L330.9,202.9 L332.7,203.8 L334.5,204.7 L336.3,205.7 L338.1,206.7 L339.9,207.8 L341.7,208.8 L343.5,209.9 L345.3,211.1 L347,212.2 L348.8,213.3 L350.6,214.5 L352.3,215.6 L354.1,216.7 L355.9,217.9 L357.6,219 L359.4,220.1 L361.2,221.1 L362.9,222.2 L364.7,223.2 L366.4,224.2 L368.2,225.1 L370,226 L371.7,226.8 L373.5,227.6 L375.3,228.3 L377.1,228.9 L378.9,229.5 L380.7,230 L382.5,230.4 L384.3,230.8 L386.1,231.1 L387.9,231.3 L389.7,231.5 L391.6,231.6 L393.4,231.6 L395.2,231.6 L397.1,231.6 L399,231.5 L400.9,231.3 L402.7,231.1 L404.6,230.8 L406.5,230.5 L408.5,230.1 L410.4,229.7 L412.3,229.2 L414.3,228.7 L416.2,228.2 L418.2,227.6 L420.2,227 L422.2,226.4 L424.1,225.8 L426.1,225.2 L428.1,224.5 L430.1,223.9 L432.1,223.2 L434.1,222.6 L436.1,222 L438.1,221.4 L440.1,220.8 L442.1,220.3 L444.1,219.8 L446.1,219.3 L448.1,218.8 L450,218.5 L452,218.1 L454,217.8 L455.9,217.6 L457.9,217.5 L459.8,217.4 L461.7,217.4 L463.6,217.4 L465.5,217.6 L467.4,217.8 L469.3,218.1 L471.1,218.4 L472.9,218.9 L474.8,219.4 L476.6,220 L478.3,220.6 L480.1,221.4 L481.8,222.2 L483.6,223 L485.3,223.9 L487,224.9 L488.6,225.9 L490.3,227 L492,228.2 L493.6,229.3 L495.2,230.6 L496.8,231.8 L498.4,233.1 L500,234.4 L501.6,235.7 L503.2,237.1 L504.8,238.5 L506.4,239.9 L508,241.3 L509.6,242.7 L511.1,244.2 L512.7,245.6 L514.3,247 L515.9,248.4 L517.5,249.8 L519,251.2 L520.6,252.6 L522.2,254 L523.9,255.3 L525.5,256.6 L527.1,257.9 L528.8,259.2 L530.4,260.4 L532.1,261.5 L533.8,262.7 L535.5,263.8 L537.2,264.8 L538.9,265.8 L540.7,266.7 L542.4,267.5 L544.2,268.3 L546,269.1 L547.9,269.7 L549.7,270.3 L551.6,270.9 L553.4,271.4 L555.3,271.8 L557.2,272.2 L559.1,272.5 L561,272.7 L562.9,272.9 L564.8,273.1 L566.7,273.2 L568.6,273.2 L570.5,273.1 L572.5,273.1 L574.4,272.9 L576.3,272.7 L578.2,272.4 L580.1,272.1 L582,271.7 L583.8,271.3 L585.7,270.8 L587.6,270.3 L589.4,269.7 L591.2,269.1 L593.1,268.4 L594.9,267.6 L596.7,266.8 L598.4,266 L600.2,265 L601.9,264.1 L603.6,263.1 L605.3,262 L606.9,260.9 L608.6,259.8 L610.2,258.6 L611.9,257.4 L613.5,256.2 L615.1,254.9 L616.6,253.6 L618.2,252.3 L619.8,250.9 L621.3,249.5 L622.9,248.2 L624.4,246.7 L626,245.3 L627.5,243.9 L629,242.5 L630.5,241 L632.1,239.6 L633.6,238.1 L635.1,236.7 L636.6,235.2 L638.1,233.8 L639.7,232.4 L641.2,230.9 L642.7,229.5 L644.2,228.1 L645.8,226.8 L647.3,225.4 L648.9,224.1 L650.5,222.8 L652,221.5 L653.6,220.3 L655.2,219.1 L656.8,217.9 L658.5,216.8 L660.1,215.7 L661.8,214.6 L663.4,213.6 L665.1,212.7 L666.8,211.7 L668.6,210.9 L670.3,210.1 L672.1,209.3 L673.9,208.7 L675.7,208 L677.5,207.5 L679.4,207 L681.3,206.6 L683.2,206.2 L685.1,206 L687.1,205.8 L689.1,205.6 L691,205.6 L693,205.6 L695,205.7 L697,205.8 L698.9,206 L700.9,206.3 L702.9,206.7 L704.8,207.1 L706.7,207.7 L708.6,208.3 L710.5,208.9 L712.3,209.7 L714.1,210.5 L715.9,211.3 L717.6,212.3 L719.3,213.3 L721,214.4 L722.6,215.6 L724.1,216.9 L725.6,218.2 L727.1,219.5 L728.6,220.9 L730,222.4 L731.4,223.8 L732.8,225.4 L734.1,226.9 L735.5,228.5 L736.8,230.1 L738.1,231.7 L739.4,233.3 L740.7,234.9 L741.9,236.5 L743.2,238.1 L744.5,239.8 L745.8,241.4 L747,243 L748.3,244.5 L749.6,246.1 L750.9,247.7 L752.2,249.2 L753.5,250.7 L754.8,252.2 L756.1,253.6 L757.5,255 L758.8,256.4 L760.2,257.8 L761.6,259.1 L763,260.3 L764.5,261.6 L766,262.7 L767.5,263.8 L769,264.9 L770.6,265.9 L772.2,266.8 L773.8,267.7 L775.5,268.5 L777.2,269.3 L779,270 L780.8,270.6 L782.6,271.1 L784.5,271.6 L786.4,272 L788.3,272.3 L790.3,272.6 L792.3,272.9 L794.3,273.1 L796.3,273.3 L798.4,273.5 L800.4,273.6 L802.5,273.8 L804.6,273.9 L806.7,274.1 L808.8,274.2 L810.8,274.3 L812.9,274.5 L815,274.7 L817,274.9 L819.1,275.1 L821.1,275.4 L823.1,275.7 L825.1,276.1 L827,276.5 L828.9,276.9 L830.9,277.4 L832.8,277.9 L834.7,278.5 L836.5,279.1 L838.4,279.7 L840.2,280.3 L842,281 L843.8,281.7 L845.6,282.5 L847.4,283.2 L849.2,284 L851,284.9 L852.7,285.7 L854.4,286.6 L856.2,287.5 L857.9,288.4 L859.6,289.3 L861.3,290.3 L863,291.2 L864.7,292.2 L866.4,293.2 L868.1,294.3 L869.7,295.3 L871.4,296.3 L873.1,297.4 L874.7,298.5 L876.4,299.6 L878,300.7 L879.7,301.8 L881.3,302.9 L883,304 L884.6,305.1 L886.3,306.2 L888,307.3 L889.6,308.5 L891.3,309.6 L892.9,310.8 L894.6,311.9 L896.2,313 L897.9,314.2 L899.5,315.4 L901.2,316.5 L902.8,317.7 L904.5,318.8 L906.2,320 L907.8,321.2 L909.5,322.3 L911.1,323.5 L912.8,324.7 L914.4,325.8 L916.1,327 L917.8,328.2 L919.4,329.3 L921.1,330.5 L922.8,331.7 L924.4,332.8 L926.1,334 L927.8,335.2 L929.5,336.3 L931.1,337.5 L932.8,338.6 L934.5,339.8 L936.2,340.9 L937.9,342.1 L939.5,343.2 L941.2,344.3 L942.9,345.4 L944.6,346.6 L946.3,347.7 L948,348.8 L949.7,349.9 L951.4,351 L953.1,352.1 L954.8,353.2 L956.6,354.2 L958.3,355.3 L960,356.4 L961.7,357.4 L963.4,358.4 L965.2,359.5 L966.9,360.5 L968.6,361.5 L970.4,362.5 L972.1,363.5 L973.9,364.5 L975.6,365.5 L977.4,366.4 L979.1,367.4 L980.9,368.3 L982.7,369.2 L984.4,370.1 L986.2,371 L988,371.9 L989.8,372.8 L991.6,373.7 L993.4,374.5 L995.2,375.3 L997,376.1 L998.8,377 L1000.6,377.7 L1002.4,378.5 L1004.2,379.3 L1006.1,380 L1007.9,380.7 L1009.7,381.4 L1011.6,382.1 L1013.4,382.8 L1015.3,383.4 L1017.2,384.1 L1019,384.7 L1020.9,385.3 L1022.8,385.9 L1024.7,386.4 L1026.5,387 L1028.4,387.5 L1030.3,388 L1032.3,388.5 L1034.2,388.9 L1036.1,389.4 L1038,389.8 L1039.9,390.2 L1041.9,390.6 L1043.8,390.9 L1045.8,391.3 L1047.7,391.6 L1049.7,391.9 L1051.6,392.2 L1053.6,392.5 L1055.6,392.7 L1057.5,393 L1059.5,393.2 L1061.5,393.4 L1063.5,393.5 L1065.5,393.7 L1067.4,393.8 L1069.4,394 L1071.4,394.1 L1073.4,394.2 L1075.4,394.2 L1077.4,394.3 L1079.4,394.3 L1081.4,394.4 L1083.4,394.4 L1085.5,394.4 L1087.5,394.3 L1089.5,394.3 L1091.5,394.2 L1093.5,394.2 L1095.5,394.1 L1097.5,394 L1099.5,393.9 L1101.6,393.7 L1103.6,393.6 L1105.6,393.4 L1107.6,393.2 L1109.6,393 L1111.6,392.8 L1113.6,392.6 L1115.6,392.4 L1117.7,392.1 L1119.7,391.8 L1121.7,391.6 L1123.7,391.3 L1125.7,391 L1127.7,390.7 L1129.7,390.3 L1131.7,390 L1133.7,389.6 L1135.7,389.2 L1137.7,388.9 L1139.6,388.5 L1141.6,388.1 L1143.6,387.6 L1145.6,387.2 L1147.6,386.8 L1149.5,386.3 L1151.5,385.8 L1153.5,385.4 L1155.4,384.9 L1157.4,384.4 L1159.3,383.8 L1161.3,383.3 L1163.2,382.8 L1165.1,382.2 L1167.1,381.7 L1169,381.1 L1170.9,380.5 L1172.8,380 L1174.7,379.4 L1176.6,378.7 L1178.5,378.1 L1180.4,377.5 L1182.3,376.9 L1184.1,376.2 L1186,375.6 L1187.9,374.9 L1189.7,374.2 L1191.6,373.6 L1193.4,372.9 L1195.2,372.2 L1197,371.5 L1198.9,370.7 L1200,370.3 L1205,370 L1205,900 L-5,900 Z"/></clipPath><clipPath id="cC2B"><path d="M-5,142 L0,146.5 L1.5,147.9 L3,149.3 L4.5,150.7 L6,152 L7.5,153.4 L9.1,154.7 L10.6,156 L12.2,157.3 L13.8,158.5 L15.4,159.8 L17,161 L18.6,162.2 L20.2,163.4 L21.9,164.5 L23.5,165.7 L25.2,166.8 L26.8,167.9 L28.5,169 L30.2,170 L31.9,171.1 L33.6,172.1 L35.3,173.1 L37.1,174.1 L38.8,175 L40.6,176 L42.3,176.9 L44.1,177.8 L45.9,178.7 L47.6,179.6 L49.4,180.5 L51.2,181.3 L53,182.1 L54.9,182.9 L56.7,183.7 L58.5,184.4 L60.4,185.2 L62.2,185.9 L64.1,186.6 L65.9,187.3 L67.8,188 L69.7,188.6 L71.5,189.3 L73.4,189.9 L75.3,190.5 L77.2,191 L79.1,191.6 L81,192.1 L82.9,192.7 L84.9,193.2 L86.8,193.7 L88.7,194.1 L90.7,194.6 L92.6,195 L94.5,195.4 L96.5,195.8 L98.4,196.2 L100.4,196.6 L102.4,196.9 L104.3,197.3 L106.3,197.6 L108.3,197.9 L110.2,198.2 L112.2,198.4 L114.2,198.7 L116.2,198.9 L118.2,199.1 L120.2,199.3 L122.1,199.5 L124.1,199.6 L126.1,199.8 L128.1,199.9 L130.1,200 L132.1,200.1 L134.1,200.2 L136.1,200.2 L138.1,200.3 L140.1,200.3 L142.1,200.3 L144.1,200.3 L146.1,200.3 L148.1,200.3 L150.1,200.2 L152.1,200.1 L154.1,200.1 L156.1,200 L158.1,199.9 L160.1,199.8 L162.1,199.6 L164.1,199.5 L166.1,199.4 L168.1,199.2 L170.1,199.1 L172.1,198.9 L174.1,198.7 L176.1,198.5 L178.1,198.4 L180.1,198.2 L182.1,198 L184.1,197.8 L186.1,197.6 L188.2,197.4 L190.2,197.2 L192.2,197 L194.2,196.7 L196.2,196.5 L198.2,196.3 L200.2,196.1 L202.1,195.9 L204.1,195.7 L206.1,195.5 L208.1,195.3 L210.1,195.1 L212.1,194.9 L214.1,194.8 L216.1,194.6 L218.1,194.4 L220.1,194.2 L222.1,194.1 L224.1,193.9 L226.1,193.8 L228.1,193.7 L230.1,193.6 L232.1,193.4 L234,193.3 L236,193.3 L238,193.2 L240,193.1 L242,193.1 L244,193 L245.9,193 L247.9,193 L249.9,193 L251.9,193.1 L253.9,193.1 L255.8,193.2 L257.8,193.3 L259.8,193.4 L261.8,193.5 L263.7,193.6 L265.7,193.8 L267.7,194 L269.6,194.2 L271.6,194.4 L273.6,194.7 L275.5,194.9 L277.5,195.2 L279.4,195.6 L281.4,195.9 L283.3,196.3 L285.3,196.7 L287.3,197.1 L289.2,197.6 L291.2,198 L293.1,198.5 L295,199 L297,199.6 L298.9,200.1 L300.9,200.7 L302.8,201.3 L304.7,201.9 L306.6,202.6 L308.6,203.2 L310.5,203.9 L312.4,204.6 L314.3,205.3 L316.2,206 L318.1,206.8 L320,207.5 L321.9,208.3 L323.8,209.1 L325.7,209.9 L327.6,210.7 L329.5,211.5 L331.3,212.4 L333.2,213.2 L335.1,214.1 L336.9,214.9 L338.8,215.8 L340.6,216.7 L342.5,217.6 L344.3,218.5 L346.1,219.4 L348,220.3 L349.8,221.3 L351.6,222.2 L353.4,223.1 L355.2,224.1 L357,225 L358.8,226 L360.6,226.9 L362.3,227.9 L364.1,228.8 L365.9,229.8 L367.6,230.7 L369.4,231.6 L371.2,232.5 L372.9,233.3 L374.7,234.1 L376.5,234.9 L378.2,235.6 L380,236.2 L381.8,236.8 L383.6,237.4 L385.4,237.8 L387.3,238.2 L389.1,238.5 L390.9,238.8 L392.8,239 L394.6,239.1 L396.5,239.2 L398.3,239.2 L400.2,239.1 L402.1,239 L404,238.8 L405.9,238.5 L407.8,238.2 L409.7,237.8 L411.6,237.3 L413.5,236.7 L415.5,236.1 L417.4,235.5 L419.3,234.8 L421.3,234.1 L423.2,233.3 L425.2,232.6 L427.1,231.8 L429.1,231 L431.1,230.2 L433,229.4 L435,228.7 L437,227.9 L438.9,227.2 L440.9,226.6 L442.9,225.9 L444.8,225.4 L446.8,224.8 L448.8,224.3 L450.7,223.9 L452.7,223.5 L454.6,223.2 L456.5,223 L458.4,222.8 L460.4,222.6 L462.3,222.6 L464.1,222.6 L466,222.6 L467.9,222.8 L469.7,223 L471.5,223.2 L473.3,223.6 L475.1,224 L476.9,224.6 L478.6,225.2 L480.3,225.9 L482,226.6 L483.7,227.5 L485.3,228.4 L486.9,229.4 L488.6,230.4 L490.2,231.5 L491.8,232.7 L493.3,233.9 L494.9,235.1 L496.5,236.4 L498.1,237.7 L499.7,239 L501.2,240.4 L502.8,241.7 L504.4,243.1 L506,244.5 L507.6,245.9 L509.2,247.3 L510.7,248.7 L512.3,250.1 L513.9,251.5 L515.6,252.9 L517.2,254.3 L518.8,255.7 L520.4,257.1 L522,258.4 L523.7,259.8 L525.3,261.1 L527,262.4 L528.6,263.6 L530.3,264.9 L531.9,266.1 L533.6,267.2 L535.3,268.4 L537,269.5 L538.7,270.5 L540.4,271.5 L542.2,272.5 L543.9,273.4 L545.6,274.2 L547.4,275 L549.2,275.7 L550.9,276.4 L552.7,277 L554.5,277.5 L556.4,278 L558.2,278.4 L560,278.7 L561.9,278.9 L563.7,279.1 L565.6,279.2 L567.5,279.2 L569.4,279.1 L571.3,279 L573.2,278.8 L575.1,278.5 L577,278.2 L579,277.8 L580.9,277.4 L582.8,276.9 L584.7,276.3 L586.6,275.7 L588.5,275 L590.4,274.3 L592.3,273.5 L594.2,272.7 L596.1,271.9 L598,271 L599.8,270.1 L601.7,269.1 L603.5,268.1 L605.3,267.1 L607.1,266 L608.9,264.9 L610.6,263.8 L612.4,262.6 L614.1,261.4 L615.8,260.2 L617.5,259 L619.1,257.8 L620.7,256.5 L622.3,255.3 L623.9,254 L625.4,252.7 L626.9,251.4 L628.4,250.1 L629.9,248.8 L631.4,247.5 L632.8,246.1 L634.3,244.8 L635.8,243.5 L637.2,242.2 L638.7,240.9 L640.1,239.6 L641.6,238.3 L643.1,237 L644.5,235.7 L646,234.5 L647.6,233.2 L649.1,232 L650.7,230.8 L652.3,229.6 L653.9,228.4 L655.5,227.3 L657.2,226.2 L659,225.1 L660.7,224 L662.5,223 L664.4,222 L666.2,221 L668.1,220.1 L670.1,219.2 L672,218.4 L674,217.6 L675.9,216.9 L677.9,216.2 L679.9,215.6 L681.9,215.1 L684,214.6 L686,214.2 L688,213.8 L690,213.6 L691.9,213.4 L693.9,213.3 L695.8,213.2 L697.8,213.3 L699.7,213.5 L701.5,213.7 L703.4,214.1 L705.2,214.5 L707,215 L708.7,215.6 L710.4,216.3 L712.1,217.1 L713.8,217.9 L715.4,218.9 L717,219.9 L718.6,220.9 L720.2,222 L721.7,223.2 L723.2,224.5 L724.7,225.8 L726.2,227.1 L727.6,228.6 L729,230 L730.4,231.5 L731.8,233.1 L733.1,234.6 L734.4,236.3 L735.7,237.9 L737,239.6 L738.2,241.3 L739.5,243.1 L740.7,244.8 L741.9,246.6 L743.1,248.4 L744.2,250.2 L745.4,252 L746.6,253.7 L747.8,255.5 L748.9,257.3 L750.1,259 L751.3,260.6 L752.6,262.3 L753.8,263.9 L755.1,265.4 L756.4,266.9 L757.8,268.3 L759.2,269.6 L760.6,270.8 L762.1,272 L763.7,273 L765.2,274 L766.9,274.9 L768.5,275.8 L770.3,276.5 L772,277.2 L773.8,277.9 L775.6,278.4 L777.5,279 L779.3,279.5 L781.2,279.9 L783.2,280.3 L785.1,280.6 L787.1,281 L789.1,281.3 L791.1,281.5 L793.1,281.8 L795.1,282 L797.1,282.3 L799.1,282.5 L801.2,282.7 L803.2,282.9 L805.3,283.1 L807.3,283.4 L809.3,283.6 L811.4,283.8 L813.4,284.1 L815.4,284.4 L817.4,284.7 L819.3,285.1 L821.3,285.5 L823.2,285.9 L825.1,286.4 L827,286.9 L828.9,287.5 L830.8,288 L832.6,288.6 L834.5,289.3 L836.3,290 L838.1,290.7 L839.9,291.4 L841.6,292.2 L843.4,292.9 L845.2,293.8 L846.9,294.6 L848.6,295.5 L850.3,296.3 L852.1,297.2 L853.8,298.2 L855.4,299.1 L857.1,300.1 L858.8,301.1 L860.5,302.1 L862.1,303.1 L863.8,304.1 L865.4,305.2 L867.1,306.2 L868.7,307.3 L870.4,308.4 L872,309.5 L873.7,310.6 L875.3,311.7 L876.9,312.8 L878.6,313.9 L880.2,315.1 L881.8,316.2 L883.5,317.4 L885.1,318.5 L886.7,319.6 L888.4,320.8 L890,321.9 L891.7,323.1 L893.3,324.2 L895,325.4 L896.6,326.5 L898.3,327.7 L899.9,328.9 L901.6,330 L903.2,331.2 L904.9,332.3 L906.6,333.5 L908.2,334.7 L909.9,335.8 L911.6,337 L913.2,338.1 L914.9,339.3 L916.6,340.4 L918.3,341.6 L920,342.7 L921.6,343.8 L923.3,345 L925,346.1 L926.7,347.3 L928.4,348.4 L930.1,349.5 L931.8,350.6 L933.5,351.7 L935.2,352.8 L936.9,353.9 L938.6,355 L940.3,356.1 L942.1,357.2 L943.8,358.3 L945.5,359.4 L947.2,360.4 L949,361.5 L950.7,362.5 L952.4,363.6 L954.2,364.6 L955.9,365.6 L957.7,366.7 L959.4,367.7 L961.2,368.7 L962.9,369.6 L964.7,370.6 L966.4,371.6 L968.2,372.5 L970,373.5 L971.8,374.4 L973.5,375.4 L975.3,376.3 L977.1,377.2 L978.9,378.1 L980.7,378.9 L982.5,379.8 L984.3,380.6 L986.1,381.5 L987.9,382.3 L989.7,383.1 L991.6,383.9 L993.4,384.7 L995.2,385.5 L997,386.2 L998.9,387 L1000.7,387.7 L1002.6,388.4 L1004.4,389.1 L1006.3,389.7 L1008.2,390.4 L1010,391 L1011.9,391.7 L1013.8,392.3 L1015.6,392.9 L1017.5,393.4 L1019.4,394 L1021.3,394.5 L1023.2,395 L1025.1,395.5 L1027,396 L1029,396.5 L1030.9,396.9 L1032.8,397.3 L1034.7,397.7 L1036.7,398.1 L1038.6,398.4 L1040.6,398.8 L1042.5,399.1 L1044.5,399.4 L1046.4,399.7 L1048.4,399.9 L1050.4,400.2 L1052.3,400.4 L1054.3,400.6 L1056.3,400.8 L1058.2,401 L1060.2,401.1 L1062.2,401.3 L1064.2,401.4 L1066.2,401.5 L1068.2,401.6 L1070.2,401.6 L1072.2,401.7 L1074.2,401.7 L1076.2,401.7 L1078.2,401.7 L1080.2,401.7 L1082.2,401.6 L1084.2,401.6 L1086.2,401.5 L1088.2,401.4 L1090.2,401.3 L1092.2,401.2 L1094.2,401 L1096.2,400.9 L1098.2,400.7 L1100.2,400.5 L1102.2,400.3 L1104.2,400.1 L1106.2,399.8 L1108.2,399.6 L1110.2,399.3 L1112.2,399 L1114.2,398.7 L1116.2,398.4 L1118.2,398.1 L1120.2,397.8 L1122.2,397.4 L1124.2,397 L1126.2,396.6 L1128.1,396.2 L1130.1,395.8 L1132.1,395.4 L1134.1,395 L1136,394.5 L1138,394 L1140,393.6 L1141.9,393.1 L1143.9,392.5 L1145.8,392 L1147.8,391.5 L1149.7,390.9 L1151.7,390.4 L1153.6,389.8 L1155.5,389.2 L1157.5,388.6 L1159.4,388 L1161.3,387.4 L1163.2,386.7 L1165.1,386.1 L1167,385.4 L1168.9,384.7 L1170.8,384 L1172.6,383.3 L1174.5,382.6 L1176.4,381.9 L1178.2,381.2 L1180.1,380.4 L1181.9,379.7 L1183.8,378.9 L1185.6,378.1 L1187.4,377.3 L1189.2,376.5 L1191,375.7 L1192.8,374.9 L1194.6,374.1 L1196.4,373.2 L1198.2,372.4 L1199.9,371.5 L1200,371.5 L1205,371 L1205,900 L-5,900 Z"/></clipPath><clipPath id="cA"><path d="M0,315 C16.7,318.2 33.3,321.5 50,325 C66.7,328.5 83.3,331.7 100,336 C116.7,340.3 133.3,345.8 150,351 C166.7,356.2 183.3,362.2 200,367.5 C216.7,372.8 233.3,376.5 250,382.5 C257.3,385.1 264.7,390.8 272,391 C275.9,391.1 279.9,391.2 283.8,391.2 C292.3,391.2 294.2,348.6 302.7,348.6 C311.2,348.6 313,348.6 321.5,348.8 C330,349 331.9,349.4 340.4,354.4 C348.9,359.5 350.8,387 359.3,387 C367.7,387 369.6,387 378.1,386.7 C386.6,386.5 388.5,379.3 397,367 C405.5,354.6 407.4,342 415.9,331.8 C424.3,321.7 426.2,320.5 434.7,320.5 C443.2,320.5 445.1,334.5 453.6,337.2 C462.1,339.9 464,337.5 472.4,340.2 C480.9,343 482.8,353.7 491.3,356.8 C499.8,359.8 501.7,357.1 510.2,360.1 C518.7,363.2 520.6,374.1 529,382.3 C537.5,390.5 539.4,396.7 547.9,396.7 C556.4,396.7 558.3,391.2 566.8,391.2 C575.3,391.2 577.1,393.9 585.6,395.7 C594.1,397.6 596,399.4 604.5,399.4 C613,399.4 614.9,399 623.4,395.3 C631.9,391.6 633.7,350 642.2,348.2 C650.7,346.4 652.6,346.4 661.1,346.2 C669.6,346 671.5,346 680,346 C688.5,346 690.3,346.4 698.8,349.7 C707.3,353.1 709.2,360.8 717.7,367.5 C726.2,374.2 728.1,370.8 736.6,379.5 C745,388.2 746.9,406 755.4,406 C763.9,406 765.8,391 774.3,391 C782.8,391 784.7,410.2 793.2,410.2 C801.6,410.2 803.5,393.1 812,393.1 C820.5,393.1 822.4,400 830.9,400 C839.4,400 841.3,390 849.7,390 C858.2,390 860.1,397.5 868.6,403.5 C877.1,409.5 879,410.7 887.5,416.8 C896,423 897.9,424.8 906.3,430.6 C914.8,436.5 916.7,441.3 925.2,443 C933.7,444.6 935.6,443.2 944.1,444.8 C952.6,446.4 954.4,448.3 962.9,453.6 C971.4,458.8 973.3,463.1 981.8,468.2 C996.5,477 1011.3,477 1026,481.4 C1041.2,485.9 1056.5,491.1 1071.7,495 C1083.8,498.1 1095.9,500.4 1108,503.3 C1120.3,506.2 1132.7,509.6 1145,512.5 C1163.3,516.8 1181.7,520.6 1200,524.4 L1200,900 L0,900 Z"/></clipPath><clipPath id="cB"><path d="M0,402.5 C20,403.6 40,404.6 60,406 C80,407.4 100,409.5 120,410.8 C134.3,411.7 148.7,411.5 163,413 C172.7,414 182.3,414.4 192,417.3 C196.9,418.7 201.7,421.2 206.6,423 C216.2,426.6 225.9,429.6 235.5,433.2 C245.1,436.8 254.8,441.2 264.4,444.8 C268.3,446.2 272.1,447.9 276,449 C278.6,449.7 281.2,450.1 283.8,450.8 C292.3,453.1 294.2,457.7 302.7,457.7 C311.2,457.7 313,438.7 321.5,438.7 C330,438.7 331.9,464.1 340.4,474.2 C348.9,484.2 350.8,485.3 359.3,485.3 C367.7,485.3 369.6,483.3 378.1,483.3 C386.6,483.3 388.5,498.4 397,498.4 C405.5,498.4 407.4,480 415.9,480 C424.3,480 426.2,489.6 434.7,489.6 C443.2,489.6 445.1,453.1 453.6,434.5 C462.1,415.9 464,410.6 472.4,406.8 C480.9,402.9 482.8,402.5 491.3,402.5 C499.8,402.5 501.7,415.7 510.2,424.8 C518.7,434 520.6,434.4 529,443.2 C537.5,451.9 539.4,454.1 547.9,463.7 C556.4,473.2 558.3,485.7 566.8,485.7 C575.3,485.7 577.1,464.5 585.6,464.5 C594.1,464.5 596,468.9 604.5,471.3 C613,473.6 614.9,473.4 623.4,474.9 C631.9,476.4 633.7,475.2 642.2,478.1 C650.7,481 652.6,496.6 661.1,496.6 C669.6,496.6 671.5,479.4 680,478.1 C688.5,476.8 690.3,476.6 698.8,476.6 C707.3,476.6 709.2,494.1 717.7,503.1 C726.2,512.2 728.1,510.5 736.6,517 C745,523.5 746.9,532 755.4,532 C763.9,532 765.8,525.6 774.3,525.6 C782.8,525.6 784.7,525.6 793.2,525.6 C801.6,525.6 803.5,526.3 812,527.8 C820.5,529.3 822.4,532.1 830.9,532.1 C839.4,532.1 841.3,529.8 849.7,529.8 C858.2,529.8 860.1,536.4 868.6,540.4 C877.1,544.4 879,547.6 887.5,547.6 C896,547.6 897.9,528.7 906.3,528.7 C914.8,528.7 916.7,533.7 925.2,533.7 C933.7,533.7 935.6,516.2 944.1,511.6 C952.6,507 954.4,506.5 962.9,506.5 C971.4,506.5 973.3,524.9 981.8,536 C990.4,547.2 998.9,553.1 1007.5,560.3 C1016.7,568 1025.8,574.9 1035,580.5 C1047.2,588 1059.5,592.4 1071.7,597 C1083.9,601.6 1096.1,604.6 1108.3,608 C1120.5,611.4 1132.8,614.4 1145,617.2 C1163.3,621.4 1181.7,624.7 1200,628 L1200,900 L0,900 Z"/></clipPath><clipPath id="cC"><path d="M0,595 C16.7,596.5 33.3,598.1 50,601 C66.7,603.9 83.3,608.7 100,612.5 C116.7,616.3 133.3,620.8 150,623.8 C166.7,626.7 183.3,628.3 200,630 C216.7,631.7 233.3,633.4 250,633.8 C257.3,633.9 264.7,634 272,634 C275.9,634 279.9,632.8 283.8,632.8 C292.3,632.8 294.2,634.9 302.7,634.9 C311.2,634.9 313,621.6 321.5,613.7 C330,605.9 331.9,606.4 340.4,600.1 C348.9,593.7 350.8,585.4 359.3,585.4 C367.7,585.4 369.6,620.8 378.1,620.8 C386.6,620.8 388.5,620.8 397,620.7 C405.5,620.7 407.4,605.1 415.9,605.1 C424.3,605.1 426.2,625.9 434.7,636.3 C443.2,646.7 445.1,651.3 453.6,651.3 C462.1,651.3 464,622.1 472.4,616.3 C480.9,610.4 482.8,610.8 491.3,609.8 C499.8,608.8 501.7,609.7 510.2,608.6 C518.7,607.6 520.6,600.3 529,600.3 C537.5,600.3 539.4,633.5 547.9,633.5 C556.4,633.5 558.3,627.7 566.8,623 C575.3,618.3 577.1,612.8 585.6,612.8 C594.1,612.8 596,621 604.5,621 C613,621 614.9,618.3 623.4,618.3 C631.9,618.3 633.7,620.9 642.2,627.9 C650.7,634.9 652.6,642.6 661.1,649.4 C669.6,656.2 671.5,657.9 680,657.9 C688.5,657.9 690.3,645.6 698.8,639.8 C707.3,633.9 709.2,635 717.7,631.9 C726.2,628.7 728.1,625.7 736.6,625.7 C745,625.7 746.9,647.9 755.4,647.9 C763.9,647.9 765.8,637 774.3,637 C782.8,637 784.7,648.8 793.2,654.5 C801.6,660.2 803.5,662.2 812,662.2 C820.5,662.2 822.4,643.4 830.9,643.4 C839.4,643.4 841.3,660.8 849.7,671.5 C858.2,682.2 860.1,691.1 868.6,691.1 C877.1,691.1 879,683.5 887.5,683.5 C896,683.5 897.9,697.7 906.3,700.4 C914.8,703 916.7,702.4 925.2,703.3 C933.7,704.2 935.6,703.4 944.1,704.4 C952.6,705.3 954.4,707.9 962.9,710 C971.4,712.2 973.3,712.3 981.8,713.9 C989.2,715.3 996.6,716.2 1004,717.5 C1019.3,720.2 1034.7,723.6 1050,726.7 C1066.7,730 1083.3,733.4 1100,736.7 C1116.7,740.1 1133.3,743.4 1150,746.8 C1166.7,750.1 1183.3,753.5 1200,756.8 L1200,900 L0,900 Z"/></clipPath></defs>
<g fill="#3ac2dc"><rect x="128" y="295" width="972" height="1"/><rect x="128" y="348" width="972" height="1"/><rect x="128" y="400" width="972" height="1"/><rect x="128" y="453" width="972" height="1"/><rect x="128" y="506" width="972" height="1"/><rect x="128" y="558" width="972" height="1"/><rect x="128" y="611" width="972" height="1"/><rect x="128" y="663" width="972" height="1"/><rect x="128" y="716" width="972" height="1"/><rect x="128" y="769" width="972" height="1"/></g>
<g fill="#b4ffff" clip-path="url(#cC2T)"><rect x="128" y="295" width="972" height="1"/><rect x="128" y="348" width="972" height="1"/><rect x="128" y="400" width="972" height="1"/><rect x="128" y="453" width="972" height="1"/><rect x="128" y="506" width="972" height="1"/><rect x="128" y="558" width="972" height="1"/><rect x="128" y="611" width="972" height="1"/><rect x="128" y="663" width="972" height="1"/><rect x="128" y="716" width="972" height="1"/><rect x="128" y="769" width="972" height="1"/></g>
<g fill="#7fe0ec" clip-path="url(#cC2B)"><rect x="128" y="295" width="972" height="1"/><rect x="128" y="348" width="972" height="1"/><rect x="128" y="400" width="972" height="1"/><rect x="128" y="453" width="972" height="1"/><rect x="128" y="506" width="972" height="1"/><rect x="128" y="558" width="972" height="1"/><rect x="128" y="611" width="972" height="1"/><rect x="128" y="663" width="972" height="1"/><rect x="128" y="716" width="972" height="1"/><rect x="128" y="769" width="972" height="1"/></g>
<g fill="#d7ab86" clip-path="url(#cA)"><rect x="128" y="295" width="972" height="1"/><rect x="128" y="348" width="972" height="1"/><rect x="128" y="400" width="972" height="1"/><rect x="128" y="453" width="972" height="1"/><rect x="128" y="506" width="972" height="1"/><rect x="128" y="558" width="972" height="1"/><rect x="128" y="611" width="972" height="1"/><rect x="128" y="663" width="972" height="1"/><rect x="128" y="716" width="972" height="1"/><rect x="128" y="769" width="972" height="1"/></g>
<g fill="#eac39d" clip-path="url(#cB)"><rect x="128" y="295" width="972" height="1"/><rect x="128" y="348" width="972" height="1"/><rect x="128" y="400" width="972" height="1"/><rect x="128" y="453" width="972" height="1"/><rect x="128" y="506" width="972" height="1"/><rect x="128" y="558" width="972" height="1"/><rect x="128" y="611" width="972" height="1"/><rect x="128" y="663" width="972" height="1"/><rect x="128" y="716" width="972" height="1"/><rect x="128" y="769" width="972" height="1"/></g>
<g fill="#ecdbb9" clip-path="url(#cC)"><rect x="128" y="295" width="972" height="1"/><rect x="128" y="348" width="972" height="1"/><rect x="128" y="400" width="972" height="1"/><rect x="128" y="453" width="972" height="1"/><rect x="128" y="506" width="972" height="1"/><rect x="128" y="558" width="972" height="1"/><rect x="128" y="611" width="972" height="1"/><rect x="128" y="663" width="972" height="1"/><rect x="128" y="716" width="972" height="1"/><rect x="128" y="769" width="972" height="1"/></g>
<rect x="100" y="294" width="28" height="3.2" fill="#ffffff"/>
<text x="100.9" y="290.6" font-size="14.2" font-weight="bold" fill="#fff" textLength="27" lengthAdjust="spacingAndGlyphs">180</text>
<rect x="100" y="346.6" width="28" height="3.2" fill="#ffffff"/>
<text x="100.9" y="343.2" font-size="14.2" font-weight="bold" fill="#fff" textLength="27" lengthAdjust="spacingAndGlyphs">160</text>
<rect x="100" y="399.2" width="28" height="3.2" fill="#ffffff"/>
<text x="100.9" y="395.8" font-size="14.2" font-weight="bold" fill="#fff" textLength="27" lengthAdjust="spacingAndGlyphs">140</text>
<rect x="100" y="451.9" width="28" height="3.2" fill="#ffffff"/>
<text x="100.9" y="448.5" font-size="14.2" font-weight="bold" fill="#fff" textLength="27" lengthAdjust="spacingAndGlyphs">120</text>
<rect x="100" y="504.5" width="28" height="3.2" fill="#ffffff"/>
<text x="100.9" y="501.1" font-size="14.2" font-weight="bold" fill="#fff" textLength="27" lengthAdjust="spacingAndGlyphs">100</text>
<rect x="100" y="557.1" width="28" height="3.2" fill="#ffffff"/>
<text x="109.9" y="553.7" font-size="14.2" font-weight="bold" fill="#fff" textLength="18" lengthAdjust="spacingAndGlyphs">80</text>
<rect x="100" y="609.7" width="28" height="3.2" fill="#ffffff"/>
<text x="109.9" y="606.3" font-size="14.2" font-weight="bold" fill="#fff" textLength="18" lengthAdjust="spacingAndGlyphs">60</text>
<rect x="100" y="662.4" width="28" height="3.2" fill="#ffffff"/>
<text x="109.9" y="659" font-size="14.2" font-weight="bold" fill="#fff" textLength="18" lengthAdjust="spacingAndGlyphs">40</text>
<rect x="100" y="715" width="28" height="3.2" fill="#ffffff"/>
<text x="109.9" y="711.6" font-size="14.2" font-weight="bold" fill="#fff" textLength="18" lengthAdjust="spacingAndGlyphs">20</text>
<rect x="100" y="767.6" width="28" height="3.2" fill="#ffffff"/>
<text x="118.9" y="764.2" font-size="14.2" font-weight="bold" fill="#fff" textLength="9" lengthAdjust="spacingAndGlyphs">0</text>
<text x="99.5" y="255.3" font-size="11" font-weight="bold" fill="#fff" textLength="45" lengthAdjust="spacingAndGlyphs">METERS</text>
<circle cx="283.8" cy="391.2" r="4.6" fill="#fde74a"/>
<circle cx="302.7" cy="345.8" r="4.6" fill="#fde74a"/>
<circle cx="321.5" cy="348.8" r="4.6" fill="#fde74a"/>
<circle cx="340.4" cy="352.5" r="4.6" fill="#fde74a"/>
<circle cx="359.3" cy="389.2" r="4.6" fill="#fde74a"/>
<circle cx="378.1" cy="387.8" r="4.6" fill="#fde74a"/>
<circle cx="397" cy="368" r="4.6" fill="#fde74a"/>
<circle cx="415.9" cy="330.3" r="4.6" fill="#fde74a"/>
<circle cx="434.7" cy="318.7" r="4.6" fill="#fde74a"/>
<circle cx="453.6" cy="338.3" r="4.6" fill="#fde74a"/>
<circle cx="472.4" cy="339.2" r="4.6" fill="#fde74a"/>
<circle cx="491.3" cy="357.8" r="4.6" fill="#fde74a"/>
<circle cx="510.2" cy="358.8" r="4.6" fill="#fde74a"/>
<circle cx="529" cy="382.8" r="4.6" fill="#fde74a"/>
<circle cx="547.9" cy="398" r="4.6" fill="#fde74a"/>
<circle cx="566.8" cy="390.5" r="4.6" fill="#fde74a"/>
<circle cx="585.6" cy="395.8" r="4.6" fill="#fde74a"/>
<circle cx="604.5" cy="399.7" r="4.6" fill="#fde74a"/>
<circle cx="623.4" cy="398.3" r="4.6" fill="#fde74a"/>
<circle cx="642.2" cy="345" r="4.6" fill="#fde74a"/>
<circle cx="661.1" cy="346.3" r="4.6" fill="#fde74a"/>
<circle cx="680" cy="345.8" r="4.6" fill="#fde74a"/>
<circle cx="698.8" cy="348.8" r="4.6" fill="#fde74a"/>
<circle cx="717.7" cy="368" r="4.6" fill="#fde74a"/>
<circle cx="736.6" cy="378.3" r="4.6" fill="#fde74a"/>
<circle cx="755.4" cy="409" r="4.6" fill="#fde74a"/>
<circle cx="774.3" cy="388.4" r="4.6" fill="#fde74a"/>
<circle cx="793.2" cy="412.9" r="4.6" fill="#fde74a"/>
<circle cx="812" cy="391.2" r="4.6" fill="#fde74a"/>
<circle cx="830.9" cy="401.4" r="4.6" fill="#fde74a"/>
<circle cx="849.7" cy="388.4" r="4.6" fill="#fde74a"/>
<circle cx="868.6" cy="403.6" r="4.6" fill="#fde74a"/>
<circle cx="887.5" cy="416.8" r="4.6" fill="#fde74a"/>
<circle cx="906.3" cy="430.7" r="4.6" fill="#fde74a"/>
<circle cx="925.2" cy="443.7" r="4.6" fill="#fde74a"/>
<circle cx="944.1" cy="444.3" r="4.6" fill="#fde74a"/>
<circle cx="962.9" cy="453.2" r="4.6" fill="#fde74a"/>
<circle cx="981.8" cy="468.2" r="4.6" fill="#fde74a"/>
<circle cx="283.8" cy="450.8" r="4.6" fill="#0a5b8c"/>
<circle cx="302.7" cy="460" r="4.6" fill="#0a5b8c"/>
<circle cx="321.5" cy="434.2" r="4.6" fill="#0a5b8c"/>
<circle cx="340.4" cy="476.3" r="4.6" fill="#0a5b8c"/>
<circle cx="359.3" cy="486.3" r="4.6" fill="#0a5b8c"/>
<circle cx="378.1" cy="481.7" r="4.6" fill="#0a5b8c"/>
<circle cx="397" cy="501.3" r="4.6" fill="#0a5b8c"/>
<circle cx="415.9" cy="477.2" r="4.6" fill="#0a5b8c"/>
<circle cx="434.7" cy="495" r="4.6" fill="#0a5b8c"/>
<circle cx="453.6" cy="432.1" r="4.6" fill="#0a5b8c"/>
<circle cx="472.4" cy="405.3" r="4.6" fill="#0a5b8c"/>
<circle cx="491.3" cy="400.5" r="4.6" fill="#0a5b8c"/>
<circle cx="510.2" cy="425.3" r="4.6" fill="#0a5b8c"/>
<circle cx="529" cy="443" r="4.6" fill="#0a5b8c"/>
<circle cx="547.9" cy="463.3" r="4.6" fill="#0a5b8c"/>
<circle cx="566.8" cy="489.2" r="4.6" fill="#0a5b8c"/>
<circle cx="585.6" cy="462" r="4.6" fill="#0a5b8c"/>
<circle cx="604.5" cy="471.7" r="4.6" fill="#0a5b8c"/>
<circle cx="623.4" cy="475" r="4.6" fill="#0a5b8c"/>
<circle cx="642.2" cy="476.7" r="4.6" fill="#0a5b8c"/>
<circle cx="661.1" cy="499.7" r="4.6" fill="#0a5b8c"/>
<circle cx="680" cy="476.7" r="4.6" fill="#0a5b8c"/>
<circle cx="698.8" cy="474.5" r="4.6" fill="#0a5b8c"/>
<circle cx="717.7" cy="504.3" r="4.6" fill="#0a5b8c"/>
<circle cx="736.6" cy="516.7" r="4.6" fill="#0a5b8c"/>
<circle cx="755.4" cy="533.7" r="4.6" fill="#0a5b8c"/>
<circle cx="774.3" cy="525" r="4.6" fill="#0a5b8c"/>
<circle cx="793.2" cy="525.5" r="4.6" fill="#0a5b8c"/>
<circle cx="812" cy="527.6" r="4.6" fill="#0a5b8c"/>
<circle cx="830.9" cy="532.7" r="4.6" fill="#0a5b8c"/>
<circle cx="849.7" cy="528.7" r="4.6" fill="#0a5b8c"/>
<circle cx="868.6" cy="540.6" r="4.6" fill="#0a5b8c"/>
<circle cx="887.5" cy="549.8" r="4.6" fill="#0a5b8c"/>
<circle cx="906.3" cy="526.5" r="4.6" fill="#0a5b8c"/>
<circle cx="925.2" cy="536" r="4.6" fill="#0a5b8c"/>
<circle cx="944.1" cy="510.3" r="4.6" fill="#0a5b8c"/>
<circle cx="962.9" cy="503.9" r="4.6" fill="#0a5b8c"/>
<circle cx="981.8" cy="536" r="4.6" fill="#0a5b8c"/>
<circle cx="283.8" cy="632.8" r="4.6" fill="#e8439b"/>
<circle cx="302.7" cy="636.7" r="4.6" fill="#e8439b"/>
<circle cx="321.5" cy="613" r="4.6" fill="#e8439b"/>
<circle cx="340.4" cy="600.5" r="4.6" fill="#e8439b"/>
<circle cx="359.3" cy="581.3" r="4.6" fill="#e8439b"/>
<circle cx="378.1" cy="623.7" r="4.6" fill="#e8439b"/>
<circle cx="397" cy="622" r="4.6" fill="#e8439b"/>
<circle cx="415.9" cy="601.3" r="4.6" fill="#e8439b"/>
<circle cx="434.7" cy="637.5" r="4.6" fill="#e8439b"/>
<circle cx="453.6" cy="655.2" r="4.6" fill="#e8439b"/>
<circle cx="472.4" cy="613.8" r="4.6" fill="#e8439b"/>
<circle cx="491.3" cy="609.5" r="4.6" fill="#e8439b"/>
<circle cx="510.2" cy="609.5" r="4.6" fill="#e8439b"/>
<circle cx="529" cy="596.7" r="4.6" fill="#e8439b"/>
<circle cx="547.9" cy="637.2" r="4.6" fill="#e8439b"/>
<circle cx="566.8" cy="622.8" r="4.6" fill="#e8439b"/>
<circle cx="585.6" cy="611.3" r="4.6" fill="#e8439b"/>
<circle cx="604.5" cy="622" r="4.6" fill="#e8439b"/>
<circle cx="623.4" cy="617.3" r="4.6" fill="#e8439b"/>
<circle cx="642.2" cy="627" r="4.6" fill="#e8439b"/>
<circle cx="661.1" cy="650.3" r="4.6" fill="#e8439b"/>
<circle cx="680" cy="660" r="4.6" fill="#e8439b"/>
<circle cx="698.8" cy="638.8" r="4.6" fill="#e8439b"/>
<circle cx="717.7" cy="632" r="4.6" fill="#e8439b"/>
<circle cx="736.6" cy="623.3" r="4.6" fill="#e8439b"/>
<circle cx="755.4" cy="650.8" r="4.6" fill="#e8439b"/>
<circle cx="774.3" cy="634.5" r="4.6" fill="#e8439b"/>
<circle cx="793.2" cy="655.3" r="4.6" fill="#e8439b"/>
<circle cx="812" cy="664.5" r="4.6" fill="#e8439b"/>
<circle cx="830.9" cy="639.6" r="4.6" fill="#e8439b"/>
<circle cx="849.7" cy="672.3" r="4.6" fill="#e8439b"/>
<circle cx="868.6" cy="693.3" r="4.6" fill="#e8439b"/>
<circle cx="887.5" cy="681.4" r="4.6" fill="#e8439b"/>
<circle cx="906.3" cy="701.6" r="4.6" fill="#e8439b"/>
<circle cx="925.2" cy="703.4" r="4.6" fill="#e8439b"/>
<circle cx="944.1" cy="704" r="4.6" fill="#e8439b"/>
<circle cx="962.9" cy="710.2" r="4.6" fill="#e8439b"/>
<circle cx="981.8" cy="713.9" r="4.6" fill="#e8439b"/>
<rect x="100" y="76" width="986" height="54" fill="#045781"/>
<text x="110" y="120" font-size="50" font-weight="bold" fill="#fff" textLength="966" lengthAdjust="spacingAndGlyphs">ORANGE COUNTY’S SHRINKING BEACHES</text>
<rect x="100" y="136" width="341" height="32" fill="#045781"/>
<text x="113" y="161" font-size="27" fill="#fff" textLength="313" lengthAdjust="spacingAndGlyphs">Width of beach, 1985-2021</text>
<rect x="256" y="782" width="56" height="19" fill="#fff"/>
<text x="259.5" y="797.5" font-size="14.5" font-weight="bold" fill="#a3805f" textLength="48.5" lengthAdjust="spacingAndGlyphs">1/1985</text>
<rect x="485" y="782" width="63" height="19" fill="#fff"/>
<text x="487.5" y="797.5" font-size="14.5" font-weight="bold" fill="#a3805f" textLength="57.5" lengthAdjust="spacingAndGlyphs">10/1995</text>
<rect x="721.3" y="782" width="55.7" height="19" fill="#fff"/>
<text x="724.5" y="797.5" font-size="14.5" font-weight="bold" fill="#a3805f" textLength="49" lengthAdjust="spacingAndGlyphs">7/2009</text>
<rect x="949.6" y="782" width="65" height="19" fill="#fff"/>
<text x="953" y="797.5" font-size="14.5" font-weight="bold" fill="#a3805f" textLength="57" lengthAdjust="spacingAndGlyphs">11/2021</text>
<circle cx="149.6" cy="843.2" r="2.9" fill="#fde74a"/>
<circle cx="159.6" cy="843.2" r="2.9" fill="#fde74a"/>
<circle cx="169" cy="843.2" r="2.9" fill="#fde74a"/>
<text x="182.5" y="848.5" font-size="15" font-weight="bold" fill="#5f5b55" textLength="190.5" lengthAdjust="spacingAndGlyphs">SURFSIDE-SUNSET BEACH</text>
<circle cx="411" cy="843.2" r="2.9" fill="#0a5b8c"/>
<circle cx="419.3" cy="843.2" r="2.9" fill="#0a5b8c"/>
<circle cx="427.5" cy="843.2" r="2.9" fill="#0a5b8c"/>
<text x="445.8" y="848.5" font-size="15" font-weight="bold" fill="#5f5b55" textLength="142.5" lengthAdjust="spacingAndGlyphs">OCEANSIDE BEACH</text>
<circle cx="626.6" cy="843.2" r="2.9" fill="#e8439b"/>
<circle cx="634.8" cy="843.2" r="2.9" fill="#e8439b"/>
<circle cx="643" cy="843.2" r="2.9" fill="#e8439b"/>
<text x="659.8" y="848.5" font-size="15" font-weight="bold" fill="#5f5b55" textLength="168" lengthAdjust="spacingAndGlyphs">SAN CLEMENTE BEACH</text>
</svg>
</body></html>
